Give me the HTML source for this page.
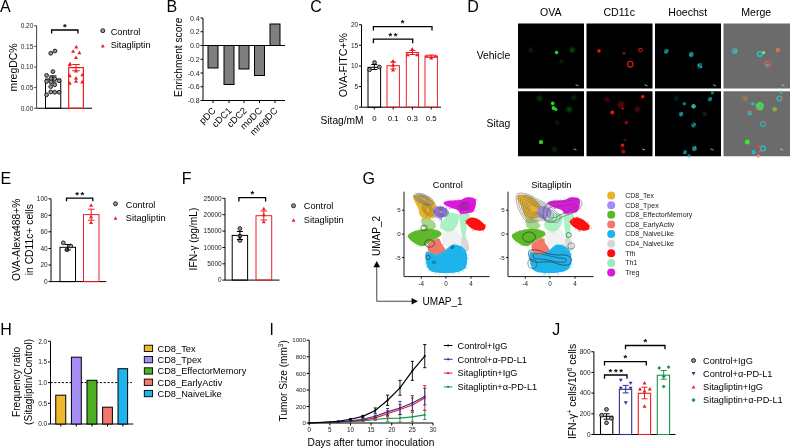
<!DOCTYPE html>
<html><head><meta charset="utf-8"><style>
html,body{margin:0;padding:0;background:#fff;overflow:hidden;width:790px;height:448px;}
svg{display:block;will-change:transform;font-family:"Liberation Sans", sans-serif;}
svg text{font-family:"Liberation Sans", sans-serif;}
</style></head><body>
<svg width="790" height="448" viewBox="0 0 790 448" font-family="Liberation Sans, sans-serif">
<rect width="790" height="448" fill="#fff"/>
<text x="0" y="11.9" font-size="16" text-anchor="start" fill="#000" >A</text>
<line x1="36.6" y1="25.75" x2="36.6" y2="108.25" stroke="#444" stroke-width="1" />
<line x1="34.1" y1="25.75" x2="36.6" y2="25.75" stroke="#444" stroke-width="1" />
<text x="33.300000000000004" y="28.09" font-size="6.5" text-anchor="end" fill="#222" >0.20</text>
<line x1="34.1" y1="46.4" x2="36.6" y2="46.4" stroke="#444" stroke-width="1" />
<text x="33.300000000000004" y="48.739999999999995" font-size="6.5" text-anchor="end" fill="#222" >0.15</text>
<line x1="34.1" y1="67.0" x2="36.6" y2="67.0" stroke="#444" stroke-width="1" />
<text x="33.300000000000004" y="69.34" font-size="6.5" text-anchor="end" fill="#222" >0.10</text>
<line x1="34.1" y1="87.6" x2="36.6" y2="87.6" stroke="#444" stroke-width="1" />
<text x="33.300000000000004" y="89.94" font-size="6.5" text-anchor="end" fill="#222" >0.05</text>
<line x1="34.1" y1="108.25" x2="36.6" y2="108.25" stroke="#444" stroke-width="1" />
<text x="33.300000000000004" y="110.59" font-size="6.5" text-anchor="end" fill="#222" >0.00</text>
<line x1="36.6" y1="108.25" x2="92" y2="108.25" stroke="#000" stroke-width="1" />
<text x="16.6" y="67.5" font-size="10.45" text-anchor="middle" fill="#000" transform="rotate(-90 16.6 67.5)" >mregDC%</text>
<rect x="45.5" y="79.1" width="15.25" height="29.150000000000006" fill="none" stroke="#000" stroke-width="1" />
<rect x="68.65" y="67.6" width="14.75" height="40.650000000000006" fill="none" stroke="#ee1d23" stroke-width="1.2" />
<line x1="53" y1="75.9" x2="53" y2="82.0" stroke="#000" stroke-width="1" />
<line x1="49.5" y1="75.9" x2="56.5" y2="75.9" stroke="#000" stroke-width="1" />
<line x1="49.5" y1="82.0" x2="56.5" y2="82.0" stroke="#000" stroke-width="1" />
<line x1="49" y1="79.1" x2="57" y2="79.1" stroke="#000" stroke-width="1" />
<line x1="76" y1="64.5" x2="76" y2="70.75" stroke="#ee1d23" stroke-width="1" />
<line x1="72.25" y1="64.5" x2="79.75" y2="64.5" stroke="#ee1d23" stroke-width="1" />
<line x1="72.25" y1="70.75" x2="79.75" y2="70.75" stroke="#ee1d23" stroke-width="1" />
<line x1="72" y1="67.6" x2="80" y2="67.6" stroke="#ee1d23" stroke-width="1" />
<circle cx="50.75" cy="53.25" r="1.9" fill="#999" stroke="#111" stroke-width="0.9"/>
<circle cx="55" cy="51" r="1.9" fill="#999" stroke="#111" stroke-width="0.9"/>
<circle cx="52.9" cy="71.6" r="1.9" fill="#999" stroke="#111" stroke-width="0.9"/>
<circle cx="46.6" cy="75.4" r="1.9" fill="#999" stroke="#111" stroke-width="0.9"/>
<circle cx="51" cy="78.5" r="1.9" fill="#999" stroke="#111" stroke-width="0.9"/>
<circle cx="54.75" cy="78.75" r="1.9" fill="#999" stroke="#111" stroke-width="0.9"/>
<circle cx="59.1" cy="80.75" r="1.9" fill="#999" stroke="#111" stroke-width="0.9"/>
<circle cx="46.6" cy="81.4" r="1.9" fill="#999" stroke="#111" stroke-width="0.9"/>
<circle cx="54.75" cy="84.75" r="1.9" fill="#999" stroke="#111" stroke-width="0.9"/>
<circle cx="50.75" cy="86.6" r="1.9" fill="#999" stroke="#111" stroke-width="0.9"/>
<circle cx="50.75" cy="92" r="1.9" fill="#999" stroke="#111" stroke-width="0.9"/>
<circle cx="54.75" cy="92.25" r="1.9" fill="#999" stroke="#111" stroke-width="0.9"/>
<circle cx="59.1" cy="92.25" r="1.9" fill="#999" stroke="#111" stroke-width="0.9"/>
<circle cx="46.6" cy="94.75" r="1.9" fill="#999" stroke="#111" stroke-width="0.9"/>
<circle cx="51" cy="82" r="1.9" fill="#999" stroke="#111" stroke-width="0.9"/>
<polygon points="74.25,48.4 78.25,48.4 76.25,44.800000000000004" fill="#ee1d23"/>
<polygon points="71.1,52.8 75.1,52.8 73.1,49.2" fill="#ee1d23"/>
<polygon points="77.4,54.3 81.4,54.3 79.4,50.7" fill="#ee1d23"/>
<polygon points="74.0,59.05 78.0,59.05 76,55.45" fill="#ee1d23"/>
<polygon points="68.0,65.3 72.0,65.3 70,61.7" fill="#ee1d23"/>
<polygon points="67.75,66.3 71.75,66.3 69.75,62.7" fill="#ee1d23"/>
<polygon points="74.0,72.55 78.0,72.55 76,68.95" fill="#ee1d23"/>
<polygon points="67.75,77.2 71.75,77.2 69.75,73.60000000000001" fill="#ee1d23"/>
<polygon points="80.25,76.3 84.25,76.3 82.25,72.7" fill="#ee1d23"/>
<polygon points="74.0,79.7 78.0,79.7 76,76.10000000000001" fill="#ee1d23"/>
<polygon points="74.0,82.8 78.0,82.8 76,79.2" fill="#ee1d23"/>
<polygon points="67.75,84.7 71.75,84.7 69.75,81.10000000000001" fill="#ee1d23"/>
<polygon points="80.25,83.39999999999999 84.25,83.39999999999999 82.25,79.8" fill="#ee1d23"/>
<path d="M51.6,33.5 V30 H77.9 V33.5" fill="none" stroke="#000" stroke-width="1.3"/>
<text x="64.75" y="29.7" font-size="9.5" text-anchor="middle" fill="#000" font-weight="bold" letter-spacing="0">*</text>
<circle cx="102.8" cy="30.7" r="2.0" fill="#999" stroke="#111" stroke-width="0.9"/>
<polygon points="100.89999999999999,47.410000000000004 104.7,47.410000000000004 102.8,43.99" fill="#ee1d23"/>
<text x="110.7" y="34.8" font-size="9.2" text-anchor="start" fill="#000" >Control</text>
<text x="110.7" y="48.2" font-size="9.2" text-anchor="start" fill="#000" >Sitagliptin</text>
<text x="166.5" y="11.9" font-size="16" text-anchor="start" fill="#000" >B</text>
<text x="182" y="57.25" font-size="10.2" text-anchor="middle" fill="#000" transform="rotate(-90 182 57.25)" >Enrichment score</text>
<line x1="203" y1="18" x2="203" y2="100.5" stroke="#000" stroke-width="1" />
<line x1="200.5" y1="18" x2="203" y2="18" stroke="#000" stroke-width="1" />
<text x="199.7" y="20.52" font-size="7" text-anchor="end" fill="#222" >0.4</text>
<line x1="200.5" y1="31.75" x2="203" y2="31.75" stroke="#000" stroke-width="1" />
<text x="199.7" y="34.27" font-size="7" text-anchor="end" fill="#222" >0.2</text>
<line x1="200.5" y1="45.5" x2="203" y2="45.5" stroke="#000" stroke-width="1" />
<text x="199.7" y="48.02" font-size="7" text-anchor="end" fill="#222" >0.0</text>
<line x1="200.5" y1="59.25" x2="203" y2="59.25" stroke="#000" stroke-width="1" />
<text x="199.7" y="61.77" font-size="7" text-anchor="end" fill="#222" >-0.2</text>
<line x1="200.5" y1="73" x2="203" y2="73" stroke="#000" stroke-width="1" />
<text x="199.7" y="75.52" font-size="7" text-anchor="end" fill="#222" >-0.4</text>
<line x1="200.5" y1="86.75" x2="203" y2="86.75" stroke="#000" stroke-width="1" />
<text x="199.7" y="89.27" font-size="7" text-anchor="end" fill="#222" >-0.6</text>
<line x1="200.5" y1="100.5" x2="203" y2="100.5" stroke="#000" stroke-width="1" />
<text x="199.7" y="103.02" font-size="7" text-anchor="end" fill="#222" >-0.8</text>
<line x1="203" y1="100.5" x2="285" y2="100.5" stroke="#000" stroke-width="1" />
<line x1="203" y1="45.5" x2="285" y2="45.5" stroke="#000" stroke-width="1" />
<rect x="208" y="45.5" width="10" height="22.5" fill="#7f7f7f" stroke="#000" stroke-width="1" />
<line x1="213.0" y1="100.5" x2="213.0" y2="103" stroke="#000" stroke-width="1" />
<text x="216.4" y="111.3" font-size="9.4" text-anchor="end" fill="#000" transform="rotate(-45 216.4 111.3)" >pDC</text>
<rect x="224" y="45.5" width="10" height="39.0" fill="#7f7f7f" stroke="#000" stroke-width="1" />
<line x1="229.0" y1="100.5" x2="229.0" y2="103" stroke="#000" stroke-width="1" />
<text x="232.4" y="111.3" font-size="9.4" text-anchor="end" fill="#000" transform="rotate(-45 232.4 111.3)" >cDC1</text>
<rect x="239" y="45.5" width="10" height="23.5" fill="#7f7f7f" stroke="#000" stroke-width="1" />
<line x1="244.0" y1="100.5" x2="244.0" y2="103" stroke="#000" stroke-width="1" />
<text x="247.4" y="111.3" font-size="9.4" text-anchor="end" fill="#000" transform="rotate(-45 247.4 111.3)" >cDC2</text>
<rect x="254.5" y="45.5" width="10.0" height="30.0" fill="#7f7f7f" stroke="#000" stroke-width="1" />
<line x1="259.5" y1="100.5" x2="259.5" y2="103" stroke="#000" stroke-width="1" />
<text x="262.9" y="111.3" font-size="9.4" text-anchor="end" fill="#000" transform="rotate(-45 262.9 111.3)" >moDC</text>
<rect x="270" y="24" width="10" height="21.5" fill="#7f7f7f" stroke="#000" stroke-width="1" />
<line x1="275.0" y1="100.5" x2="275.0" y2="103" stroke="#000" stroke-width="1" />
<text x="278.4" y="111.3" font-size="9.4" text-anchor="end" fill="#000" transform="rotate(-45 278.4 111.3)" >mregDC</text>
<text x="310.2" y="11.8" font-size="16" text-anchor="start" fill="#000" >C</text>
<text x="347" y="65.2" font-size="10.6" text-anchor="middle" fill="#000" transform="rotate(-90 347 65.2)" >OVA-FITC+%</text>
<line x1="361.5" y1="24.7" x2="361.5" y2="107.2" stroke="#000" stroke-width="1" />
<line x1="359.0" y1="24.7" x2="361.5" y2="24.7" stroke="#000" stroke-width="1" />
<text x="358.2" y="27.04" font-size="6.5" text-anchor="end" fill="#222" >20</text>
<line x1="359.0" y1="45.3" x2="361.5" y2="45.3" stroke="#000" stroke-width="1" />
<text x="358.2" y="47.64" font-size="6.5" text-anchor="end" fill="#222" >15</text>
<line x1="359.0" y1="66.0" x2="361.5" y2="66.0" stroke="#000" stroke-width="1" />
<text x="358.2" y="68.34" font-size="6.5" text-anchor="end" fill="#222" >10</text>
<line x1="359.0" y1="86.6" x2="361.5" y2="86.6" stroke="#000" stroke-width="1" />
<text x="358.2" y="88.94" font-size="6.5" text-anchor="end" fill="#222" >5</text>
<line x1="359.0" y1="107.2" x2="361.5" y2="107.2" stroke="#000" stroke-width="1" />
<text x="358.2" y="109.54" font-size="6.5" text-anchor="end" fill="#222" >0</text>
<line x1="361.5" y1="107.2" x2="441" y2="107.2" stroke="#000" stroke-width="1" />
<rect x="368" y="67.3" width="12.600000000000023" height="39.900000000000006" fill="none" stroke="#000" stroke-width="1" />
<line x1="374.3" y1="107.2" x2="374.3" y2="109.5" stroke="#000" stroke-width="1" />
<text x="374.3" y="121.2" font-size="7.8" text-anchor="middle" fill="#000" >0</text>
<rect x="387" y="65.7" width="12.399999999999977" height="41.5" fill="none" stroke="#ee1d23" stroke-width="1" />
<line x1="393.2" y1="107.2" x2="393.2" y2="109.5" stroke="#000" stroke-width="1" />
<text x="393.2" y="121.2" font-size="7.8" text-anchor="middle" fill="#000" >0.1</text>
<rect x="406.3" y="52.5" width="12.300000000000011" height="54.7" fill="none" stroke="#ee1d23" stroke-width="1" />
<line x1="412.45000000000005" y1="107.2" x2="412.45000000000005" y2="109.5" stroke="#000" stroke-width="1" />
<text x="412.45000000000005" y="121.2" font-size="7.8" text-anchor="middle" fill="#000" >0.3</text>
<rect x="425" y="56" width="12.399999999999977" height="51.2" fill="none" stroke="#ee1d23" stroke-width="1" />
<line x1="431.2" y1="107.2" x2="431.2" y2="109.5" stroke="#000" stroke-width="1" />
<text x="431.2" y="121.2" font-size="7.8" text-anchor="middle" fill="#000" >0.5</text>
<circle cx="369.6" cy="69.7" r="1.9" fill="#999" stroke="#111" stroke-width="0.9"/>
<circle cx="374.5" cy="62.5" r="1.9" fill="#999" stroke="#111" stroke-width="0.9"/>
<circle cx="379.3" cy="67" r="1.9" fill="#999" stroke="#111" stroke-width="0.9"/>
<line x1="374.3" y1="64.5" x2="374.3" y2="69.5" stroke="#000" stroke-width="1" />
<line x1="371.3" y1="64.5" x2="377.3" y2="64.5" stroke="#000" stroke-width="1" />
<line x1="371.3" y1="69.5" x2="377.3" y2="69.5" stroke="#000" stroke-width="1" />
<polygon points="391.0,62.699999999999996 395.0,62.699999999999996 393,59.1" fill="#ee1d23"/>
<polygon points="391.0,66.8 395.0,66.8 393,63.2" fill="#ee1d23"/>
<polygon points="391.0,71.5 395.0,71.5 393,67.9" fill="#ee1d23"/>
<line x1="393.2" y1="62" x2="393.2" y2="69" stroke="#ee1d23" stroke-width="1" />
<line x1="390.2" y1="62" x2="396.2" y2="62" stroke="#ee1d23" stroke-width="1" />
<line x1="390.2" y1="69" x2="396.2" y2="69" stroke="#ee1d23" stroke-width="1" />
<polygon points="410.2,50.599999999999994 414.2,50.599999999999994 412.2,47.0" fill="#ee1d23"/>
<polygon points="405.9,56.3 409.9,56.3 407.9,52.7" fill="#ee1d23"/>
<polygon points="415.0,56.3 419.0,56.3 417,52.7" fill="#ee1d23"/>
<line x1="412.5" y1="50.5" x2="412.5" y2="54.5" stroke="#ee1d23" stroke-width="1" />
<line x1="409.5" y1="50.5" x2="415.5" y2="50.5" stroke="#ee1d23" stroke-width="1" />
<line x1="409.5" y1="54.5" x2="415.5" y2="54.5" stroke="#ee1d23" stroke-width="1" />
<polygon points="424.7,57.8 428.7,57.8 426.7,54.2" fill="#ee1d23"/>
<polygon points="429.2,59.5 433.2,59.5 431.2,55.900000000000006" fill="#ee1d23"/>
<polygon points="433.5,57.8 437.5,57.8 435.5,54.2" fill="#ee1d23"/>
<line x1="431.2" y1="55" x2="431.2" y2="57.5" stroke="#ee1d23" stroke-width="1" />
<line x1="428.2" y1="55" x2="434.2" y2="55" stroke="#ee1d23" stroke-width="1" />
<line x1="428.2" y1="57.5" x2="434.2" y2="57.5" stroke="#ee1d23" stroke-width="1" />
<path d="M373.4,43.2 V39.1 H412.7 V43.2" fill="none" stroke="#000" stroke-width="1.3"/>
<text x="393.84999999999997" y="38.800000000000004" font-size="9.5" text-anchor="middle" fill="#000" font-weight="bold" letter-spacing="1.6">**</text>
<path d="M373.4,30.5 V26.7 H432 V30.5" fill="none" stroke="#000" stroke-width="1.3"/>
<text x="402.7" y="26.4" font-size="9.5" text-anchor="middle" fill="#000" font-weight="bold" letter-spacing="0">*</text>
<text x="320.5" y="123.6" font-size="10.2" text-anchor="start" fill="#000" >Sitag/mM</text>
<text x="467.3" y="11.7" font-size="16" text-anchor="start" fill="#000" >D</text>
<text x="550.7" y="16.1" font-size="10.6" text-anchor="middle" fill="#000" >OVA</text>
<text x="619.2" y="16.1" font-size="10.6" text-anchor="middle" fill="#000" >CD11c</text>
<text x="687.7" y="16.1" font-size="10.6" text-anchor="middle" fill="#000" >Hoechst</text>
<text x="756.2" y="16.1" font-size="10.6" text-anchor="middle" fill="#000" >Merge</text>
<text x="510.2" y="59" font-size="10.4" text-anchor="end" fill="#000" >Vehicle</text>
<text x="510.2" y="127" font-size="10.4" text-anchor="end" fill="#000" >Sitag</text>
<rect x="518" y="23.5" width="66" height="65" fill="#000" stroke="none" stroke-width="0" />
<rect x="586.5" y="23.5" width="66" height="65" fill="#000" stroke="none" stroke-width="0" />
<rect x="655" y="23.5" width="66" height="65" fill="#000" stroke="none" stroke-width="0" />
<rect x="723.5" y="23.5" width="66.5" height="65" fill="#6b6b6b" stroke="none" stroke-width="0" />
<rect x="518" y="91.25" width="66" height="65" fill="#000" stroke="none" stroke-width="0" />
<rect x="586.5" y="91.25" width="66" height="65" fill="#000" stroke="none" stroke-width="0" />
<rect x="655" y="91.25" width="66" height="65" fill="#000" stroke="none" stroke-width="0" />
<rect x="723.5" y="91.25" width="66.5" height="65" fill="#6b6b6b" stroke="none" stroke-width="0" />
<defs><filter id="bl" x="-50%" y="-50%" width="200%" height="200%"><feGaussianBlur stdDeviation="0.55"/></filter><filter id="bl2" x="-50%" y="-50%" width="200%" height="200%"><feGaussianBlur stdDeviation="1.2"/></filter></defs>
<circle cx="556.6" cy="52.5" r="1.8" fill="#22dd22" fill-opacity="1" filter="url(#bl)"/>
<circle cx="572.25" cy="50.1" r="2.5" fill="#22dd22" fill-opacity="0.35" filter="url(#bl2)"/>
<circle cx="530.8" cy="50.1" r="2.3" fill="#22dd22" fill-opacity="0.18" filter="url(#bl2)"/>
<circle cx="561.3" cy="61.8" r="2.3" fill="#22dd22" fill-opacity="0.15" filter="url(#bl2)"/>
<line x1="575.5" y1="84.7" x2="578.5" y2="85.89999999999999" stroke="#ccc" stroke-width="0.8"/>
<circle cx="599" cy="50.9" r="1.8" fill="#ff1a1a" fill-opacity="0.9" filter="url(#bl)"/>
<circle cx="640.5" cy="50.1" r="1.8" fill="none" stroke="#ff1a1a" stroke-opacity="0.7" stroke-width="1.2" filter="url(#bl)"/>
<circle cx="624" cy="53.25" r="1.6" fill="#ff1a1a" fill-opacity="0.5" filter="url(#bl)"/>
<circle cx="630.3" cy="64.2" r="2.8" fill="none" stroke="#ff1a1a" stroke-opacity="0.8" stroke-width="1.3" filter="url(#bl)"/>
<line x1="644.5" y1="84.7" x2="647.5" y2="85.89999999999999" stroke="#ccc" stroke-width="0.8"/>
<ellipse cx="666.25" cy="51.3" rx="2.4" ry="2.64" fill="#1fc8c8" fill-opacity="0.45" filter="url(#bl)"/>
<circle cx="667.21" cy="50.58" r="0.84" fill="#1fc8c8" fill-opacity="0.9" filter="url(#bl)"/>
<circle cx="665.53" cy="52.26" r="0.84" fill="#1fc8c8" fill-opacity="0.9" filter="url(#bl)"/>
<ellipse cx="691.25" cy="54.5" rx="2.4" ry="2.64" fill="#1fc8c8" fill-opacity="0.55" filter="url(#bl)"/>
<circle cx="692.21" cy="53.78" r="0.84" fill="#1fc8c8" fill-opacity="0.9" filter="url(#bl)"/>
<circle cx="690.53" cy="55.46" r="0.84" fill="#1fc8c8" fill-opacity="0.9" filter="url(#bl)"/>
<ellipse cx="699.8" cy="65.8" rx="2.7" ry="2.9700000000000006" fill="#1fc8c8" fill-opacity="0.45" filter="url(#bl)"/>
<circle cx="701.15" cy="66.88" r="0.94" fill="#1fc8c8" fill-opacity="0.9" filter="url(#bl)"/>
<circle cx="698.72" cy="65.26" r="0.94" fill="#1fc8c8" fill-opacity="0.9" filter="url(#bl)"/>
<line x1="713.0" y1="84.7" x2="716.0" y2="85.89999999999999" stroke="#ccc" stroke-width="0.8"/>
<circle cx="734.8" cy="50.9" r="2.2" fill="none" stroke="#1fc8c8" stroke-opacity="0.8" stroke-width="1.6" filter="url(#bl)"/>
<circle cx="735.5" cy="51" r="1.2" fill="#ff8080" fill-opacity="0.8" filter="url(#bl)"/>
<circle cx="759.8" cy="54" r="2.4" fill="none" stroke="#1fc8c8" stroke-opacity="0.8" stroke-width="1.8" filter="url(#bl)"/>
<circle cx="763.75" cy="52.5" r="1.5" fill="#88ff44" fill-opacity="0.9" filter="url(#bl)"/>
<circle cx="777.8" cy="50.1" r="2.2" fill="#e08040" fill-opacity="0.8" filter="url(#bl)"/>
<circle cx="767.7" cy="64.2" r="2.9" fill="none" stroke="#ff5050" stroke-opacity="0.8" stroke-width="1.3" filter="url(#bl)"/>
<circle cx="767.5" cy="65" r="1.6" fill="#1fc8c8" fill-opacity="0.8" filter="url(#bl)"/>
<line x1="781.5" y1="84.7" x2="784.5" y2="85.89999999999999" stroke="#ccc" stroke-width="0.8"/>
<circle cx="552.7" cy="103.4" r="1.8" fill="#22dd22" fill-opacity="1" filter="url(#bl)"/>
<circle cx="553.5" cy="108" r="1.9" fill="#22dd22" fill-opacity="1" filter="url(#bl)"/>
<circle cx="555.8" cy="109.3" r="1.6" fill="#22dd22" fill-opacity="1" filter="url(#bl)"/>
<circle cx="539.4" cy="98.4" r="2.8" fill="#22dd22" fill-opacity="0.22" filter="url(#bl2)"/>
<circle cx="569.1" cy="109.3" r="2.8" fill="#22dd22" fill-opacity="0.3" filter="url(#bl2)"/>
<circle cx="573.8" cy="97.6" r="2.5" fill="#22dd22" fill-opacity="0.18" filter="url(#bl2)"/>
<circle cx="541" cy="142.1" r="2.2" fill="#22dd22" fill-opacity="0.95" filter="url(#bl)"/>
<circle cx="557.4" cy="122.6" r="2.3" fill="#22dd22" fill-opacity="0.15" filter="url(#bl2)"/>
<circle cx="554.3" cy="149.2" r="3" fill="#22dd22" fill-opacity="0.15" filter="url(#bl2)"/>
<line x1="573.5" y1="148.9" x2="576.5" y2="150.1" stroke="#ccc" stroke-width="0.8"/>
<circle cx="642.8" cy="96.8" r="1.8" fill="#ff1a1a" fill-opacity="0.9" filter="url(#bl)"/>
<circle cx="612.3" cy="112.4" r="2.0" fill="#ff1a1a" fill-opacity="0.9" filter="url(#bl)"/>
<circle cx="606.9" cy="99.2" r="2.5" fill="#ff1a1a" fill-opacity="0.25" filter="url(#bl2)"/>
<circle cx="620.9" cy="104.6" r="3.5" fill="#ff1a1a" fill-opacity="0.3" filter="url(#bl2)"/>
<circle cx="622.5" cy="108.5" r="1.2" fill="#ff1a1a" fill-opacity="0.7" filter="url(#bl)"/>
<circle cx="637.3" cy="109.3" r="3" fill="#ff1a1a" fill-opacity="0.25" filter="url(#bl2)"/>
<circle cx="626.4" cy="122.6" r="2.0" fill="#ff1a1a" fill-opacity="0.45" filter="url(#bl)"/>
<circle cx="622.5" cy="145.25" r="1.8" fill="#ff1a1a" fill-opacity="0.9" filter="url(#bl)"/>
<circle cx="623.3" cy="151.5" r="2" fill="#ff1a1a" fill-opacity="0.6" filter="url(#bl)"/>
<circle cx="625" cy="140" r="1.5" fill="#ff1a1a" fill-opacity="0.3" filter="url(#bl)"/>
<line x1="642.0" y1="148.9" x2="645.0" y2="150.1" stroke="#ccc" stroke-width="0.8"/>
<circle cx="712.4" cy="92.9" r="1.6" fill="#1fc8c8" fill-opacity="0.6" filter="url(#bl)"/>
<ellipse cx="710" cy="99.2" rx="2.2" ry="2.4200000000000004" fill="#1fc8c8" fill-opacity="0.45" filter="url(#bl)"/>
<circle cx="710.88" cy="98.54" r="0.77" fill="#1fc8c8" fill-opacity="0.9" filter="url(#bl)"/>
<circle cx="709.34" cy="100.08" r="0.77" fill="#1fc8c8" fill-opacity="0.9" filter="url(#bl)"/>
<circle cx="684.25" cy="103.8" r="1.8" fill="#1fc8c8" fill-opacity="0.6" filter="url(#bl)"/>
<circle cx="693.6" cy="106.2" r="2.2" fill="#1fc8c8" fill-opacity="0.9" filter="url(#bl)"/>
<ellipse cx="681.1" cy="114" rx="2.3" ry="2.53" fill="#1fc8c8" fill-opacity="0.5" filter="url(#bl)"/>
<circle cx="682.02" cy="113.31" r="0.80" fill="#1fc8c8" fill-opacity="0.9" filter="url(#bl)"/>
<circle cx="680.41" cy="114.92" r="0.80" fill="#1fc8c8" fill-opacity="0.9" filter="url(#bl)"/>
<ellipse cx="693.6" cy="124.9" rx="2.5" ry="2.75" fill="#1fc8c8" fill-opacity="0.35" filter="url(#bl)"/>
<circle cx="694.60" cy="124.15" r="0.88" fill="#1fc8c8" fill-opacity="0.9" filter="url(#bl)"/>
<circle cx="692.85" cy="125.90" r="0.88" fill="#1fc8c8" fill-opacity="0.9" filter="url(#bl)"/>
<circle cx="704.6" cy="114" r="2.3" fill="#1fc8c8" fill-opacity="0.2" filter="url(#bl2)"/>
<circle cx="676.4" cy="98.4" r="2.3" fill="#1fc8c8" fill-opacity="0.2" filter="url(#bl2)"/>
<ellipse cx="694.4" cy="148.4" rx="2.4" ry="2.64" fill="#1fc8c8" fill-opacity="0.55" filter="url(#bl)"/>
<circle cx="695.36" cy="147.68" r="0.84" fill="#1fc8c8" fill-opacity="0.9" filter="url(#bl)"/>
<circle cx="693.68" cy="149.36" r="0.84" fill="#1fc8c8" fill-opacity="0.9" filter="url(#bl)"/>
<ellipse cx="685" cy="152.3" rx="2.0" ry="2.2" fill="#1fc8c8" fill-opacity="0.5" filter="url(#bl)"/>
<circle cx="685.80" cy="151.70" r="0.70" fill="#1fc8c8" fill-opacity="0.9" filter="url(#bl)"/>
<circle cx="684.40" cy="153.10" r="0.70" fill="#1fc8c8" fill-opacity="0.9" filter="url(#bl)"/>
<circle cx="689" cy="156" r="1.8" fill="#1fc8c8" fill-opacity="0.6" filter="url(#bl)"/>
<line x1="710.5" y1="148.9" x2="713.5" y2="150.1" stroke="#ccc" stroke-width="0.8"/>
<circle cx="745" cy="98.4" r="2.6" fill="#c08050" fill-opacity="0.6" filter="url(#bl2)"/>
<circle cx="759.8" cy="106.2" r="4.2" fill="#55dd44" fill-opacity="0.85" filter="url(#bl)"/>
<circle cx="761" cy="106.5" r="1.8" fill="#1fc8c8" fill-opacity="0.8" filter="url(#bl)"/>
<circle cx="757" cy="108.5" r="1.3" fill="#ff5050" fill-opacity="0.7" filter="url(#bl)"/>
<circle cx="752.8" cy="103.8" r="1.8" fill="#1fc8c8" fill-opacity="0.8" filter="url(#bl)"/>
<circle cx="749.7" cy="113.2" r="2.2" fill="#1fc8c8" fill-opacity="0.8" filter="url(#bl)"/>
<circle cx="749" cy="111.5" r="1.5" fill="#ff5050" fill-opacity="0.8" filter="url(#bl)"/>
<circle cx="779.4" cy="98.4" r="2.3" fill="none" stroke="#1fc8c8" stroke-opacity="0.8" stroke-width="1.4" filter="url(#bl)"/>
<circle cx="781.5" cy="97" r="1.4" fill="#ff5050" fill-opacity="0.8" filter="url(#bl)"/>
<circle cx="781" cy="92.1" r="1.6" fill="#1fc8c8" fill-opacity="0.8" filter="url(#bl)"/>
<circle cx="774.7" cy="109.3" r="2.4" fill="#a0c040" fill-opacity="0.7" filter="url(#bl)"/>
<circle cx="763" cy="124.2" r="2.4" fill="none" stroke="#1fc8c8" stroke-opacity="0.7" stroke-width="1.3" filter="url(#bl)"/>
<circle cx="764.5" cy="122.5" r="1.2" fill="#ff5050" fill-opacity="0.7" filter="url(#bl)"/>
<circle cx="747.3" cy="142.1" r="2.5" fill="#33ee33" fill-opacity="0.95" filter="url(#bl)"/>
<circle cx="763" cy="148.4" r="2.3" fill="none" stroke="#1fc8c8" stroke-opacity="0.85" stroke-width="1.5" filter="url(#bl)"/>
<circle cx="759" cy="146.8" r="1.8" fill="#ff4040" fill-opacity="0.7" filter="url(#bl)"/>
<circle cx="753.6" cy="152.3" r="2.0" fill="#1fc8c8" fill-opacity="0.8" filter="url(#bl)"/>
<circle cx="758.3" cy="156.2" r="1.8" fill="#ff9090" fill-opacity="0.8" filter="url(#bl)"/>
<circle cx="760" cy="151.5" r="1.4" fill="#ff5050" fill-opacity="0.6" filter="url(#bl)"/>
<line x1="780.0" y1="148.9" x2="783.0" y2="150.1" stroke="#ccc" stroke-width="0.8"/>
<text x="0.5" y="183.8" font-size="16" text-anchor="start" fill="#000" >E</text>
<line x1="51" y1="198.8" x2="51" y2="281.6" stroke="#000" stroke-width="1" />
<line x1="48.5" y1="198.8" x2="51" y2="198.8" stroke="#000" stroke-width="1" />
<text x="47.7" y="201.14000000000001" font-size="6.5" text-anchor="end" fill="#222" >100</text>
<line x1="48.5" y1="215.3" x2="51" y2="215.3" stroke="#000" stroke-width="1" />
<text x="47.7" y="217.64000000000001" font-size="6.5" text-anchor="end" fill="#222" >80</text>
<line x1="48.5" y1="231.8" x2="51" y2="231.8" stroke="#000" stroke-width="1" />
<text x="47.7" y="234.14000000000001" font-size="6.5" text-anchor="end" fill="#222" >60</text>
<line x1="48.5" y1="248.5" x2="51" y2="248.5" stroke="#000" stroke-width="1" />
<text x="47.7" y="250.84" font-size="6.5" text-anchor="end" fill="#222" >40</text>
<line x1="48.5" y1="265.0" x2="51" y2="265.0" stroke="#000" stroke-width="1" />
<text x="47.7" y="267.34" font-size="6.5" text-anchor="end" fill="#222" >20</text>
<line x1="48.5" y1="281.6" x2="51" y2="281.6" stroke="#000" stroke-width="1" />
<text x="47.7" y="283.94" font-size="6.5" text-anchor="end" fill="#222" >0</text>
<line x1="51" y1="281.6" x2="106.3" y2="281.6" stroke="#000" stroke-width="1" />
<text x="19.7" y="239.8" font-size="10.3" text-anchor="middle" fill="#000" transform="rotate(-90 19.7 239.8)" >OVA-Alexa488+%</text>
<text x="33.2" y="239.7" font-size="10.3" text-anchor="middle" fill="#000" transform="rotate(-90 33.2 239.7)" >in CD11c+ cells</text>
<rect x="60" y="247.3" width="15.5" height="34.30000000000001" fill="none" stroke="#000" stroke-width="1" />
<rect x="83.5" y="214.6" width="15.5" height="67.00000000000003" fill="none" stroke="#ee1d23" stroke-width="1" />
<circle cx="63.3" cy="242.8" r="1.9" fill="#999" stroke="#111" stroke-width="0.9"/>
<circle cx="70.7" cy="246" r="1.9" fill="#999" stroke="#111" stroke-width="0.9"/>
<circle cx="67" cy="249.7" r="1.9" fill="#999" stroke="#111" stroke-width="0.9"/>
<line x1="67.7" y1="244.5" x2="67.7" y2="250" stroke="#000" stroke-width="1" />
<line x1="64.7" y1="244.5" x2="70.7" y2="244.5" stroke="#000" stroke-width="1" />
<line x1="64.7" y1="250" x2="70.7" y2="250" stroke="#000" stroke-width="1" />
<polygon points="89.1,206.8 93.1,206.8 91.1,203.2" fill="#ee1d23"/>
<polygon points="89.1,218.3 93.1,218.3 91.1,214.7" fill="#ee1d23"/>
<polygon points="89.1,224.0 93.1,224.0 91.1,220.39999999999998" fill="#ee1d23"/>
<line x1="91.2" y1="209.2" x2="91.2" y2="220.2" stroke="#ee1d23" stroke-width="1" />
<line x1="87.9" y1="209.2" x2="94.5" y2="209.2" stroke="#ee1d23" stroke-width="1" />
<line x1="87.9" y1="220.2" x2="94.5" y2="220.2" stroke="#ee1d23" stroke-width="1" />
<path d="M66.5,201.29999999999998 V198.1 H92.8 V201.29999999999998" fill="none" stroke="#000" stroke-width="1.3"/>
<text x="80.45" y="197.79999999999998" font-size="9.5" text-anchor="middle" fill="#000" font-weight="bold" letter-spacing="1.6">**</text>
<circle cx="115.5" cy="203.75" r="2.0" fill="#999" stroke="#111" stroke-width="0.9"/>
<polygon points="113.6,219.71 117.4,219.71 115.5,216.29" fill="#ee1d23"/>
<text x="125.75" y="207.5" font-size="9.2" text-anchor="start" fill="#000" >Control</text>
<text x="125.75" y="221.25" font-size="9.2" text-anchor="start" fill="#000" >Sitagliptin</text>
<text x="181.8" y="183.8" font-size="16" text-anchor="start" fill="#000" >F</text>
<text x="197" y="239" font-size="10.2" text-anchor="middle" fill="#000" transform="rotate(-90 197 239)" >IFN-γ (pg/mL)</text>
<line x1="225" y1="198.3" x2="225" y2="280.1" stroke="#000" stroke-width="1" />
<line x1="222.5" y1="198.3" x2="225" y2="198.3" stroke="#000" stroke-width="1" />
<text x="221.7" y="200.64000000000001" font-size="6.5" text-anchor="end" fill="#222" >25000</text>
<line x1="222.5" y1="214.7" x2="225" y2="214.7" stroke="#000" stroke-width="1" />
<text x="221.7" y="217.04" font-size="6.5" text-anchor="end" fill="#222" >20000</text>
<line x1="222.5" y1="231.1" x2="225" y2="231.1" stroke="#000" stroke-width="1" />
<text x="221.7" y="233.44" font-size="6.5" text-anchor="end" fill="#222" >15000</text>
<line x1="222.5" y1="247.5" x2="225" y2="247.5" stroke="#000" stroke-width="1" />
<text x="221.7" y="249.84" font-size="6.5" text-anchor="end" fill="#222" >10000</text>
<line x1="222.5" y1="263.8" x2="225" y2="263.8" stroke="#000" stroke-width="1" />
<text x="221.7" y="266.14" font-size="6.5" text-anchor="end" fill="#222" >5000</text>
<line x1="222.5" y1="280.1" x2="225" y2="280.1" stroke="#000" stroke-width="1" />
<text x="221.7" y="282.44" font-size="6.5" text-anchor="end" fill="#222" >0</text>
<line x1="225" y1="280.1" x2="279.5" y2="280.1" stroke="#000" stroke-width="1" />
<rect x="232.2" y="235.4" width="15.4" height="44.70000000000002" fill="none" stroke="#000" stroke-width="1" />
<rect x="256" y="215.7" width="15.7" height="64.40000000000003" fill="none" stroke="#ee1d23" stroke-width="1" />
<circle cx="239.9" cy="228.5" r="1.9" fill="#999" stroke="#111" stroke-width="0.9"/>
<circle cx="239.9" cy="236" r="1.9" fill="#999" stroke="#111" stroke-width="0.9"/>
<circle cx="239.9" cy="240.5" r="1.9" fill="#999" stroke="#111" stroke-width="0.9"/>
<line x1="239.9" y1="231.5" x2="239.9" y2="239.5" stroke="#000" stroke-width="1" />
<line x1="236.9" y1="231.5" x2="242.9" y2="231.5" stroke="#000" stroke-width="1" />
<line x1="236.9" y1="239.5" x2="242.9" y2="239.5" stroke="#000" stroke-width="1" />
<polygon points="261.8,210.3 265.8,210.3 263.8,206.7" fill="#ee1d23"/>
<polygon points="261.8,216.3 265.8,216.3 263.8,212.7" fill="#ee1d23"/>
<polygon points="261.8,223.3 265.8,223.3 263.8,219.7" fill="#ee1d23"/>
<line x1="263.8" y1="211" x2="263.8" y2="220" stroke="#ee1d23" stroke-width="1" />
<line x1="260.5" y1="211" x2="267.1" y2="211" stroke="#ee1d23" stroke-width="1" />
<line x1="260.5" y1="220" x2="267.1" y2="220" stroke="#ee1d23" stroke-width="1" />
<path d="M238.9,201.5 V197.7 H265.6 V201.5" fill="none" stroke="#000" stroke-width="1.3"/>
<text x="252.25" y="197.39999999999998" font-size="9.5" text-anchor="middle" fill="#000" font-weight="bold" letter-spacing="0">*</text>
<circle cx="293.5" cy="205.75" r="2.0" fill="#999" stroke="#111" stroke-width="0.9"/>
<polygon points="291.6,221.71 295.4,221.71 293.5,218.29" fill="#ee1d23"/>
<text x="303.75" y="209.25" font-size="9.2" text-anchor="start" fill="#000" >Control</text>
<text x="303.75" y="222.5" font-size="9.2" text-anchor="start" fill="#000" >Sitagliptin</text>
<text x="0.3" y="335.2" font-size="16" text-anchor="start" fill="#000" >H</text>
<text x="19.9" y="381.9" font-size="10.1" text-anchor="middle" fill="#000" transform="rotate(-90 19.9 381.9)" >Frequency ratio</text>
<text x="31.8" y="381.9" font-size="10.15" text-anchor="middle" fill="#000" transform="rotate(-90 31.8 381.9)" >(Sitagliptin/Control)</text>
<line x1="50.5" y1="341.25" x2="50.5" y2="424.0" stroke="#000" stroke-width="1" />
<line x1="48.0" y1="341.25" x2="50.5" y2="341.25" stroke="#000" stroke-width="1" />
<text x="47.2" y="343.59" font-size="6.5" text-anchor="end" fill="#222" >2.0</text>
<line x1="48.0" y1="362.0" x2="50.5" y2="362.0" stroke="#000" stroke-width="1" />
<text x="47.2" y="364.34" font-size="6.5" text-anchor="end" fill="#222" >1.5</text>
<line x1="48.0" y1="382.6" x2="50.5" y2="382.6" stroke="#000" stroke-width="1" />
<text x="47.2" y="384.94" font-size="6.5" text-anchor="end" fill="#222" >1.0</text>
<line x1="48.0" y1="403.3" x2="50.5" y2="403.3" stroke="#000" stroke-width="1" />
<text x="47.2" y="405.64" font-size="6.5" text-anchor="end" fill="#222" >0.5</text>
<line x1="48.0" y1="424.0" x2="50.5" y2="424.0" stroke="#000" stroke-width="1" />
<text x="47.2" y="426.34" font-size="6.5" text-anchor="end" fill="#222" >0.0</text>
<line x1="50.5" y1="424" x2="133.25" y2="424" stroke="#000" stroke-width="1" />
<line x1="50.5" y1="382.6" x2="132" y2="382.6" stroke="#000" stroke-width="1" stroke-dasharray="2.2,1.6"/>
<rect x="55.75" y="395.2" width="10.0" height="28.80000000000001" fill="#f0b92d" stroke="#000" stroke-width="1" />
<line x1="60.75" y1="424" x2="60.75" y2="426.5" stroke="#000" stroke-width="1" />
<rect x="71.4" y="357.2" width="9.899999999999991" height="66.80000000000001" fill="#a68cf5" stroke="#000" stroke-width="1" />
<line x1="76.35" y1="424" x2="76.35" y2="426.5" stroke="#000" stroke-width="1" />
<rect x="87" y="380.3" width="9.900000000000006" height="43.69999999999999" fill="#4caf21" stroke="#000" stroke-width="1" />
<line x1="91.95" y1="424" x2="91.95" y2="426.5" stroke="#000" stroke-width="1" />
<rect x="102.6" y="407.2" width="9.800000000000011" height="16.80000000000001" fill="#f5766b" stroke="#000" stroke-width="1" />
<line x1="107.5" y1="424" x2="107.5" y2="426.5" stroke="#000" stroke-width="1" />
<rect x="118" y="368.7" width="9.599999999999994" height="55.30000000000001" fill="#1fb4ee" stroke="#000" stroke-width="1" />
<line x1="122.8" y1="424" x2="122.8" y2="426.5" stroke="#000" stroke-width="1" />
<rect x="144.3" y="345.2" width="8.3" height="6.3" fill="#f0b92d" stroke="#000" stroke-width="0.9" />
<text x="157.5" y="351.7" font-size="9.25" text-anchor="start" fill="#000" >CD8_Tex</text>
<rect x="144.3" y="356.5" width="8.3" height="6.3" fill="#a68cf5" stroke="#000" stroke-width="0.9" />
<text x="157.5" y="363.0" font-size="9.25" text-anchor="start" fill="#000" >CD8_Tpex</text>
<rect x="144.3" y="367.8" width="8.3" height="6.3" fill="#4caf21" stroke="#000" stroke-width="0.9" />
<text x="157.5" y="374.3" font-size="9.25" text-anchor="start" fill="#000" >CD8_EffectorMemory</text>
<rect x="144.3" y="379.09999999999997" width="8.3" height="6.3" fill="#f5766b" stroke="#000" stroke-width="0.9" />
<text x="157.5" y="385.59999999999997" font-size="9.25" text-anchor="start" fill="#000" >CD8_EarlyActiv</text>
<rect x="144.3" y="390.4" width="8.3" height="6.3" fill="#1fb4ee" stroke="#000" stroke-width="0.9" />
<text x="157.5" y="396.9" font-size="9.25" text-anchor="start" fill="#000" >CD8_NaiveLike</text>
<text x="269.4" y="335" font-size="15.6" text-anchor="start" fill="#000" >I</text>
<text x="287.2" y="380.75" font-size="10.1" text-anchor="middle" fill="#000" transform="rotate(-90 287.2 380.75)" >Tumor Size (mm<tspan dy="-3.8" font-size="6.6">3</tspan><tspan dy="3.8">)</tspan></text>
<line x1="309.2" y1="340.2" x2="309.2" y2="423.0" stroke="#000" stroke-width="1" />
<line x1="306.7" y1="340.2" x2="309.2" y2="340.2" stroke="#000" stroke-width="1" />
<text x="305.9" y="342.396" font-size="6.1" text-anchor="end" fill="#222" >1000</text>
<line x1="306.7" y1="356.8" x2="309.2" y2="356.8" stroke="#000" stroke-width="1" />
<text x="305.9" y="358.99600000000004" font-size="6.1" text-anchor="end" fill="#222" >800</text>
<line x1="306.7" y1="373.4" x2="309.2" y2="373.4" stroke="#000" stroke-width="1" />
<text x="305.9" y="375.596" font-size="6.1" text-anchor="end" fill="#222" >600</text>
<line x1="306.7" y1="390.0" x2="309.2" y2="390.0" stroke="#000" stroke-width="1" />
<text x="305.9" y="392.196" font-size="6.1" text-anchor="end" fill="#222" >400</text>
<line x1="306.7" y1="406.5" x2="309.2" y2="406.5" stroke="#000" stroke-width="1" />
<text x="305.9" y="408.696" font-size="6.1" text-anchor="end" fill="#222" >200</text>
<line x1="306.7" y1="423.0" x2="309.2" y2="423.0" stroke="#000" stroke-width="1" />
<text x="305.9" y="425.196" font-size="6.1" text-anchor="end" fill="#222" >0</text>
<line x1="309.2" y1="423" x2="433.0" y2="423" stroke="#000" stroke-width="1" />
<line x1="309.2" y1="423" x2="309.2" y2="425.5" stroke="#000" stroke-width="1" />
<text x="309.2" y="432.4" font-size="6.3" text-anchor="middle" fill="#222" >0</text>
<line x1="329.8333333333333" y1="423" x2="329.8333333333333" y2="425.5" stroke="#000" stroke-width="1" />
<text x="329.8333333333333" y="432.4" font-size="6.3" text-anchor="middle" fill="#222" >5</text>
<line x1="350.46666666666664" y1="423" x2="350.46666666666664" y2="425.5" stroke="#000" stroke-width="1" />
<text x="350.46666666666664" y="432.4" font-size="6.3" text-anchor="middle" fill="#222" >10</text>
<line x1="371.1" y1="423" x2="371.1" y2="425.5" stroke="#000" stroke-width="1" />
<text x="371.1" y="432.4" font-size="6.3" text-anchor="middle" fill="#222" >15</text>
<line x1="391.73333333333335" y1="423" x2="391.73333333333335" y2="425.5" stroke="#000" stroke-width="1" />
<text x="391.73333333333335" y="432.4" font-size="6.3" text-anchor="middle" fill="#222" >20</text>
<line x1="412.3666666666667" y1="423" x2="412.3666666666667" y2="425.5" stroke="#000" stroke-width="1" />
<text x="412.3666666666667" y="432.4" font-size="6.3" text-anchor="middle" fill="#222" >25</text>
<line x1="433.0" y1="423" x2="433.0" y2="425.5" stroke="#000" stroke-width="1" />
<text x="433.0" y="432.4" font-size="6.3" text-anchor="middle" fill="#222" >30</text>
<text x="371" y="445.5" font-size="10.2" text-anchor="middle" fill="#000" >Days after tumor inoculation</text>
<polyline points="309.20,423.00 338.09,422.34 350.47,421.76 362.85,420.93 375.23,419.52 387.61,418.45 399.99,418.20 412.37,416.79 424.75,414.89" fill="none" stroke="#1b9350" stroke-width="1.2"/>
<circle cx="309.2" cy="423.0" r="1.1" fill="#1b9350" stroke="none" stroke-width="0"/>
<line x1="338.08666666666664" y1="422.172" x2="338.08666666666664" y2="422.5032" stroke="#1b9350" stroke-width="0.9" />
<line x1="336.4866666666666" y1="422.172" x2="339.68666666666667" y2="422.172" stroke="#1b9350" stroke-width="0.9" />
<line x1="336.4866666666666" y1="422.5032" x2="339.68666666666667" y2="422.5032" stroke="#1b9350" stroke-width="0.9" />
<circle cx="338.08666666666664" cy="422.3376" r="1.1" fill="#1b9350" stroke="none" stroke-width="0"/>
<line x1="350.46666666666664" y1="421.4268" x2="350.46666666666664" y2="422.0892" stroke="#1b9350" stroke-width="0.9" />
<line x1="348.8666666666666" y1="421.4268" x2="352.06666666666666" y2="421.4268" stroke="#1b9350" stroke-width="0.9" />
<line x1="348.8666666666666" y1="422.0892" x2="352.06666666666666" y2="422.0892" stroke="#1b9350" stroke-width="0.9" />
<circle cx="350.46666666666664" cy="421.758" r="1.1" fill="#1b9350" stroke="none" stroke-width="0"/>
<line x1="362.84666666666664" y1="420.4332" x2="362.84666666666664" y2="421.4268" stroke="#1b9350" stroke-width="0.9" />
<line x1="361.2466666666666" y1="420.4332" x2="364.44666666666666" y2="420.4332" stroke="#1b9350" stroke-width="0.9" />
<line x1="361.2466666666666" y1="421.4268" x2="364.44666666666666" y2="421.4268" stroke="#1b9350" stroke-width="0.9" />
<circle cx="362.84666666666664" cy="420.93" r="1.1" fill="#1b9350" stroke="none" stroke-width="0"/>
<line x1="375.2266666666667" y1="418.5288" x2="375.2266666666667" y2="420.516" stroke="#1b9350" stroke-width="0.9" />
<line x1="373.62666666666667" y1="418.5288" x2="376.8266666666667" y2="418.5288" stroke="#1b9350" stroke-width="0.9" />
<line x1="373.62666666666667" y1="420.516" x2="376.8266666666667" y2="420.516" stroke="#1b9350" stroke-width="0.9" />
<circle cx="375.2266666666667" cy="419.5224" r="1.1" fill="#1b9350" stroke="none" stroke-width="0"/>
<line x1="387.6066666666667" y1="415.548" x2="387.6066666666667" y2="421.344" stroke="#1b9350" stroke-width="0.9" />
<line x1="386.00666666666666" y1="415.548" x2="389.2066666666667" y2="415.548" stroke="#1b9350" stroke-width="0.9" />
<line x1="386.00666666666666" y1="421.344" x2="389.2066666666667" y2="421.344" stroke="#1b9350" stroke-width="0.9" />
<circle cx="387.6066666666667" cy="418.446" r="1.1" fill="#1b9350" stroke="none" stroke-width="0"/>
<line x1="399.9866666666667" y1="414.4716" x2="399.9866666666667" y2="421.9236" stroke="#1b9350" stroke-width="0.9" />
<line x1="398.38666666666666" y1="414.4716" x2="401.5866666666667" y2="414.4716" stroke="#1b9350" stroke-width="0.9" />
<line x1="398.38666666666666" y1="421.9236" x2="401.5866666666667" y2="421.9236" stroke="#1b9350" stroke-width="0.9" />
<circle cx="399.9866666666667" cy="418.1976" r="1.1" fill="#1b9350" stroke="none" stroke-width="0"/>
<line x1="412.3666666666667" y1="412.236" x2="412.3666666666667" y2="421.344" stroke="#1b9350" stroke-width="0.9" />
<line x1="410.76666666666665" y1="412.236" x2="413.9666666666667" y2="412.236" stroke="#1b9350" stroke-width="0.9" />
<line x1="410.76666666666665" y1="421.344" x2="413.9666666666667" y2="421.344" stroke="#1b9350" stroke-width="0.9" />
<circle cx="412.3666666666667" cy="416.79" r="1.1" fill="#1b9350" stroke="none" stroke-width="0"/>
<line x1="424.74666666666667" y1="410.3316" x2="424.74666666666667" y2="419.4396" stroke="#1b9350" stroke-width="0.9" />
<line x1="423.14666666666665" y1="410.3316" x2="426.3466666666667" y2="410.3316" stroke="#1b9350" stroke-width="0.9" />
<line x1="423.14666666666665" y1="419.4396" x2="426.3466666666667" y2="419.4396" stroke="#1b9350" stroke-width="0.9" />
<circle cx="424.74666666666667" cy="414.8856" r="1.1" fill="#1b9350" stroke="none" stroke-width="0"/>
<polyline points="309.20,423.00 338.09,422.17 350.47,421.34 362.85,420.10 375.23,417.87 387.61,413.73 399.99,409.50 412.37,405.03 424.75,397.99" fill="none" stroke="#ee1d23" stroke-width="1.2"/>
<circle cx="309.2" cy="423.0" r="1.1" fill="#ee1d23" stroke="none" stroke-width="0"/>
<line x1="338.08666666666664" y1="421.9236" x2="338.08666666666664" y2="422.4204" stroke="#ee1d23" stroke-width="0.9" />
<line x1="336.4866666666666" y1="421.9236" x2="339.68666666666667" y2="421.9236" stroke="#ee1d23" stroke-width="0.9" />
<line x1="336.4866666666666" y1="422.4204" x2="339.68666666666667" y2="422.4204" stroke="#ee1d23" stroke-width="0.9" />
<circle cx="338.08666666666664" cy="422.172" r="1.1" fill="#ee1d23" stroke="none" stroke-width="0"/>
<line x1="350.46666666666664" y1="420.93" x2="350.46666666666664" y2="421.758" stroke="#ee1d23" stroke-width="0.9" />
<line x1="348.8666666666666" y1="420.93" x2="352.06666666666666" y2="420.93" stroke="#ee1d23" stroke-width="0.9" />
<line x1="348.8666666666666" y1="421.758" x2="352.06666666666666" y2="421.758" stroke="#ee1d23" stroke-width="0.9" />
<circle cx="350.46666666666664" cy="421.344" r="1.1" fill="#ee1d23" stroke="none" stroke-width="0"/>
<line x1="362.84666666666664" y1="419.4396" x2="362.84666666666664" y2="420.7644" stroke="#ee1d23" stroke-width="0.9" />
<line x1="361.2466666666666" y1="419.4396" x2="364.44666666666666" y2="419.4396" stroke="#ee1d23" stroke-width="0.9" />
<line x1="361.2466666666666" y1="420.7644" x2="364.44666666666666" y2="420.7644" stroke="#ee1d23" stroke-width="0.9" />
<circle cx="362.84666666666664" cy="420.102" r="1.1" fill="#ee1d23" stroke="none" stroke-width="0"/>
<line x1="375.2266666666667" y1="416.6244" x2="375.2266666666667" y2="419.1084" stroke="#ee1d23" stroke-width="0.9" />
<line x1="373.62666666666667" y1="416.6244" x2="376.8266666666667" y2="416.6244" stroke="#ee1d23" stroke-width="0.9" />
<line x1="373.62666666666667" y1="419.1084" x2="376.8266666666667" y2="419.1084" stroke="#ee1d23" stroke-width="0.9" />
<circle cx="375.2266666666667" cy="417.8664" r="1.1" fill="#ee1d23" stroke="none" stroke-width="0"/>
<line x1="387.6066666666667" y1="410.8284" x2="387.6066666666667" y2="416.6244" stroke="#ee1d23" stroke-width="0.9" />
<line x1="386.00666666666666" y1="410.8284" x2="389.2066666666667" y2="410.8284" stroke="#ee1d23" stroke-width="0.9" />
<line x1="386.00666666666666" y1="416.6244" x2="389.2066666666667" y2="416.6244" stroke="#ee1d23" stroke-width="0.9" />
<circle cx="387.6066666666667" cy="413.7264" r="1.1" fill="#ee1d23" stroke="none" stroke-width="0"/>
<line x1="399.9866666666667" y1="404.5356" x2="399.9866666666667" y2="414.4716" stroke="#ee1d23" stroke-width="0.9" />
<line x1="398.38666666666666" y1="404.5356" x2="401.5866666666667" y2="404.5356" stroke="#ee1d23" stroke-width="0.9" />
<line x1="398.38666666666666" y1="414.4716" x2="401.5866666666667" y2="414.4716" stroke="#ee1d23" stroke-width="0.9" />
<circle cx="399.9866666666667" cy="409.5036" r="1.1" fill="#ee1d23" stroke="none" stroke-width="0"/>
<line x1="412.3666666666667" y1="397.9944" x2="412.3666666666667" y2="412.0704" stroke="#ee1d23" stroke-width="0.9" />
<line x1="410.76666666666665" y1="397.9944" x2="413.9666666666667" y2="397.9944" stroke="#ee1d23" stroke-width="0.9" />
<line x1="410.76666666666665" y1="412.0704" x2="413.9666666666667" y2="412.0704" stroke="#ee1d23" stroke-width="0.9" />
<circle cx="412.3666666666667" cy="405.0324" r="1.1" fill="#ee1d23" stroke="none" stroke-width="0"/>
<line x1="424.74666666666667" y1="385.57439999999997" x2="424.74666666666667" y2="410.4144" stroke="#ee1d23" stroke-width="0.9" />
<line x1="423.14666666666665" y1="385.57439999999997" x2="426.3466666666667" y2="385.57439999999997" stroke="#ee1d23" stroke-width="0.9" />
<line x1="423.14666666666665" y1="410.4144" x2="426.3466666666667" y2="410.4144" stroke="#ee1d23" stroke-width="0.9" />
<circle cx="424.74666666666667" cy="397.9944" r="1.1" fill="#ee1d23" stroke="none" stroke-width="0"/>
<polyline points="309.20,423.00 338.09,422.01 350.47,420.93 362.85,419.27 375.23,416.29 387.61,411.82 399.99,408.01 412.37,403.05 424.75,396.59" fill="none" stroke="#2e3192" stroke-width="1.2"/>
<circle cx="309.2" cy="423.0" r="1.1" fill="#2e3192" stroke="none" stroke-width="0"/>
<line x1="338.08666666666664" y1="421.758" x2="338.08666666666664" y2="422.2548" stroke="#2e3192" stroke-width="0.9" />
<line x1="336.4866666666666" y1="421.758" x2="339.68666666666667" y2="421.758" stroke="#2e3192" stroke-width="0.9" />
<line x1="336.4866666666666" y1="422.2548" x2="339.68666666666667" y2="422.2548" stroke="#2e3192" stroke-width="0.9" />
<circle cx="338.08666666666664" cy="422.0064" r="1.1" fill="#2e3192" stroke="none" stroke-width="0"/>
<line x1="350.46666666666664" y1="420.516" x2="350.46666666666664" y2="421.344" stroke="#2e3192" stroke-width="0.9" />
<line x1="348.8666666666666" y1="420.516" x2="352.06666666666666" y2="420.516" stroke="#2e3192" stroke-width="0.9" />
<line x1="348.8666666666666" y1="421.344" x2="352.06666666666666" y2="421.344" stroke="#2e3192" stroke-width="0.9" />
<circle cx="350.46666666666664" cy="420.93" r="1.1" fill="#2e3192" stroke="none" stroke-width="0"/>
<line x1="362.84666666666664" y1="418.6116" x2="362.84666666666664" y2="419.9364" stroke="#2e3192" stroke-width="0.9" />
<line x1="361.2466666666666" y1="418.6116" x2="364.44666666666666" y2="418.6116" stroke="#2e3192" stroke-width="0.9" />
<line x1="361.2466666666666" y1="419.9364" x2="364.44666666666666" y2="419.9364" stroke="#2e3192" stroke-width="0.9" />
<circle cx="362.84666666666664" cy="419.274" r="1.1" fill="#2e3192" stroke="none" stroke-width="0"/>
<line x1="375.2266666666667" y1="415.0512" x2="375.2266666666667" y2="417.5352" stroke="#2e3192" stroke-width="0.9" />
<line x1="373.62666666666667" y1="415.0512" x2="376.8266666666667" y2="415.0512" stroke="#2e3192" stroke-width="0.9" />
<line x1="373.62666666666667" y1="417.5352" x2="376.8266666666667" y2="417.5352" stroke="#2e3192" stroke-width="0.9" />
<circle cx="375.2266666666667" cy="416.2932" r="1.1" fill="#2e3192" stroke="none" stroke-width="0"/>
<line x1="387.6066666666667" y1="408.51" x2="387.6066666666667" y2="415.134" stroke="#2e3192" stroke-width="0.9" />
<line x1="386.00666666666666" y1="408.51" x2="389.2066666666667" y2="408.51" stroke="#2e3192" stroke-width="0.9" />
<line x1="386.00666666666666" y1="415.134" x2="389.2066666666667" y2="415.134" stroke="#2e3192" stroke-width="0.9" />
<circle cx="387.6066666666667" cy="411.822" r="1.1" fill="#2e3192" stroke="none" stroke-width="0"/>
<line x1="399.9866666666667" y1="401.3892" x2="399.9866666666667" y2="414.6372" stroke="#2e3192" stroke-width="0.9" />
<line x1="398.38666666666666" y1="401.3892" x2="401.5866666666667" y2="401.3892" stroke="#2e3192" stroke-width="0.9" />
<line x1="398.38666666666666" y1="414.6372" x2="401.5866666666667" y2="414.6372" stroke="#2e3192" stroke-width="0.9" />
<circle cx="399.9866666666667" cy="408.0132" r="1.1" fill="#2e3192" stroke="none" stroke-width="0"/>
<line x1="412.3666666666667" y1="395.5932" x2="412.3666666666667" y2="410.4972" stroke="#2e3192" stroke-width="0.9" />
<line x1="410.76666666666665" y1="395.5932" x2="413.9666666666667" y2="395.5932" stroke="#2e3192" stroke-width="0.9" />
<line x1="410.76666666666665" y1="410.4972" x2="413.9666666666667" y2="410.4972" stroke="#2e3192" stroke-width="0.9" />
<circle cx="412.3666666666667" cy="403.0452" r="1.1" fill="#2e3192" stroke="none" stroke-width="0"/>
<line x1="424.74666666666667" y1="388.3068" x2="424.74666666666667" y2="404.8668" stroke="#2e3192" stroke-width="0.9" />
<line x1="423.14666666666665" y1="388.3068" x2="426.3466666666667" y2="388.3068" stroke="#2e3192" stroke-width="0.9" />
<line x1="423.14666666666665" y1="404.8668" x2="426.3466666666667" y2="404.8668" stroke="#2e3192" stroke-width="0.9" />
<circle cx="424.74666666666667" cy="396.5868" r="1.1" fill="#2e3192" stroke="none" stroke-width="0"/>
<polyline points="309.20,423.00 338.09,421.34 350.47,419.27 362.85,416.38 375.23,410.58 387.61,400.23 399.99,387.81 412.37,370.84 424.75,356.10" fill="none" stroke="#000" stroke-width="1.2"/>
<circle cx="309.2" cy="423.0" r="1.1" fill="#000" stroke="none" stroke-width="0"/>
<line x1="338.08666666666664" y1="421.0128" x2="338.08666666666664" y2="421.6752" stroke="#000" stroke-width="0.9" />
<line x1="336.4866666666666" y1="421.0128" x2="339.68666666666667" y2="421.0128" stroke="#000" stroke-width="0.9" />
<line x1="336.4866666666666" y1="421.6752" x2="339.68666666666667" y2="421.6752" stroke="#000" stroke-width="0.9" />
<circle cx="338.08666666666664" cy="421.344" r="1.1" fill="#000" stroke="none" stroke-width="0"/>
<line x1="350.46666666666664" y1="418.6116" x2="350.46666666666664" y2="419.9364" stroke="#000" stroke-width="0.9" />
<line x1="348.8666666666666" y1="418.6116" x2="352.06666666666666" y2="418.6116" stroke="#000" stroke-width="0.9" />
<line x1="348.8666666666666" y1="419.9364" x2="352.06666666666666" y2="419.9364" stroke="#000" stroke-width="0.9" />
<circle cx="350.46666666666664" cy="419.274" r="1.1" fill="#000" stroke="none" stroke-width="0"/>
<line x1="362.84666666666664" y1="415.3824" x2="362.84666666666664" y2="417.3696" stroke="#000" stroke-width="0.9" />
<line x1="361.2466666666666" y1="415.3824" x2="364.44666666666666" y2="415.3824" stroke="#000" stroke-width="0.9" />
<line x1="361.2466666666666" y1="417.3696" x2="364.44666666666666" y2="417.3696" stroke="#000" stroke-width="0.9" />
<circle cx="362.84666666666664" cy="416.376" r="1.1" fill="#000" stroke="none" stroke-width="0"/>
<line x1="375.2266666666667" y1="407.9304" x2="375.2266666666667" y2="413.2296" stroke="#000" stroke-width="0.9" />
<line x1="373.62666666666667" y1="407.9304" x2="376.8266666666667" y2="407.9304" stroke="#000" stroke-width="0.9" />
<line x1="373.62666666666667" y1="413.2296" x2="376.8266666666667" y2="413.2296" stroke="#000" stroke-width="0.9" />
<circle cx="375.2266666666667" cy="410.58" r="1.1" fill="#000" stroke="none" stroke-width="0"/>
<line x1="387.6066666666667" y1="395.0964" x2="387.6066666666667" y2="405.3636" stroke="#000" stroke-width="0.9" />
<line x1="386.00666666666666" y1="395.0964" x2="389.2066666666667" y2="395.0964" stroke="#000" stroke-width="0.9" />
<line x1="386.00666666666666" y1="405.3636" x2="389.2066666666667" y2="405.3636" stroke="#000" stroke-width="0.9" />
<circle cx="387.6066666666667" cy="400.23" r="1.1" fill="#000" stroke="none" stroke-width="0"/>
<line x1="399.9866666666667" y1="380.358" x2="399.9866666666667" y2="395.262" stroke="#000" stroke-width="0.9" />
<line x1="398.38666666666666" y1="380.358" x2="401.5866666666667" y2="380.358" stroke="#000" stroke-width="0.9" />
<line x1="398.38666666666666" y1="395.262" x2="401.5866666666667" y2="395.262" stroke="#000" stroke-width="0.9" />
<circle cx="399.9866666666667" cy="387.81" r="1.1" fill="#000" stroke="none" stroke-width="0"/>
<line x1="412.3666666666667" y1="361.31399999999996" x2="412.3666666666667" y2="380.358" stroke="#000" stroke-width="0.9" />
<line x1="410.76666666666665" y1="361.31399999999996" x2="413.9666666666667" y2="361.31399999999996" stroke="#000" stroke-width="0.9" />
<line x1="410.76666666666665" y1="380.358" x2="413.9666666666667" y2="380.358" stroke="#000" stroke-width="0.9" />
<circle cx="412.3666666666667" cy="370.836" r="1.1" fill="#000" stroke="none" stroke-width="0"/>
<line x1="424.74666666666667" y1="344.50559999999996" x2="424.74666666666667" y2="367.6896" stroke="#000" stroke-width="0.9" />
<line x1="423.14666666666665" y1="344.50559999999996" x2="426.3466666666667" y2="344.50559999999996" stroke="#000" stroke-width="0.9" />
<line x1="423.14666666666665" y1="367.6896" x2="426.3466666666667" y2="367.6896" stroke="#000" stroke-width="0.9" />
<circle cx="424.74666666666667" cy="356.0976" r="1.1" fill="#000" stroke="none" stroke-width="0"/>
<line x1="443.75" y1="345.5" x2="452.5" y2="345.5" stroke="#000" stroke-width="1" />
<circle cx="448.1" cy="345.5" r="1.1" fill="#000" stroke="none" stroke-width="0"/>
<text x="457.5" y="348.8" font-size="9.2" text-anchor="start" fill="#000" >Control+IgG</text>
<line x1="443.75" y1="359.3" x2="452.5" y2="359.3" stroke="#2e3192" stroke-width="1" />
<circle cx="448.1" cy="359.3" r="1.1" fill="#2e3192" stroke="none" stroke-width="0"/>
<text x="457.5" y="362.6" font-size="9.2" text-anchor="start" fill="#000" >Control+α-PD-L1</text>
<line x1="443.75" y1="373.1" x2="452.5" y2="373.1" stroke="#ee1d23" stroke-width="1" />
<circle cx="448.1" cy="373.1" r="1.1" fill="#ee1d23" stroke="none" stroke-width="0"/>
<text x="457.5" y="376.40000000000003" font-size="9.2" text-anchor="start" fill="#000" >Sitagliptin+IgG</text>
<line x1="443.75" y1="386.9" x2="452.5" y2="386.9" stroke="#1b9350" stroke-width="1" />
<circle cx="448.1" cy="386.9" r="1.1" fill="#1b9350" stroke="none" stroke-width="0"/>
<text x="457.5" y="390.2" font-size="9.2" text-anchor="start" fill="#000" >Sitagliptin+α-PD-L1</text>
<text x="552.2" y="335.4" font-size="16" text-anchor="start" fill="#000" >J</text>
<text x="575.6" y="391.5" font-size="10.4" text-anchor="middle" fill="#000" transform="rotate(-90 575.6 391.5)" >IFN-γ<tspan dy="-4" font-size="7">+</tspan><tspan dy="4"> cells/10</tspan><tspan dy="-4" font-size="7">6</tspan><tspan dy="4"> cells</tspan></text>
<line x1="593.9" y1="351.75" x2="593.9" y2="434.5" stroke="#000" stroke-width="1" />
<line x1="591.4" y1="351.75" x2="593.9" y2="351.75" stroke="#000" stroke-width="1" />
<text x="590.6" y="354.09" font-size="6.5" text-anchor="end" fill="#222" >800</text>
<line x1="591.4" y1="372.4" x2="593.9" y2="372.4" stroke="#000" stroke-width="1" />
<text x="590.6" y="374.73999999999995" font-size="6.5" text-anchor="end" fill="#222" >600</text>
<line x1="591.4" y1="393.1" x2="593.9" y2="393.1" stroke="#000" stroke-width="1" />
<text x="590.6" y="395.44" font-size="6.5" text-anchor="end" fill="#222" >400</text>
<line x1="591.4" y1="413.8" x2="593.9" y2="413.8" stroke="#000" stroke-width="1" />
<text x="590.6" y="416.14" font-size="6.5" text-anchor="end" fill="#222" >200</text>
<line x1="591.4" y1="434.5" x2="593.9" y2="434.5" stroke="#000" stroke-width="1" />
<text x="590.6" y="436.84" font-size="6.5" text-anchor="end" fill="#222" >0</text>
<line x1="593.9" y1="434.5" x2="675.5" y2="434.5" stroke="#000" stroke-width="1" />
<rect x="600.5" y="416.3" width="12.299999999999955" height="18.19999999999999" fill="none" stroke="#000" stroke-width="1.1" />
<rect x="619.4" y="389.3" width="12.300000000000068" height="45.19999999999999" fill="none" stroke="#2e3192" stroke-width="1.1" />
<rect x="638.3" y="393.3" width="12.300000000000068" height="41.19999999999999" fill="none" stroke="#ee1d23" stroke-width="1.1" />
<rect x="657.3" y="375.2" width="12.300000000000068" height="59.30000000000001" fill="none" stroke="#1b9350" stroke-width="1.1" />
<circle cx="606.5" cy="409.4" r="1.9" fill="#999" stroke="#111" stroke-width="0.9"/>
<circle cx="601.6" cy="415.2" r="1.9" fill="#999" stroke="#111" stroke-width="0.9"/>
<circle cx="611.4" cy="418.3" r="1.9" fill="#999" stroke="#111" stroke-width="0.9"/>
<circle cx="606.5" cy="422.8" r="1.9" fill="#999" stroke="#111" stroke-width="0.9"/>
<line x1="606.6" y1="413.8" x2="606.6" y2="419.2" stroke="#000" stroke-width="1" />
<line x1="603.6" y1="413.8" x2="609.6" y2="413.8" stroke="#000" stroke-width="1" />
<line x1="603.6" y1="419.2" x2="609.6" y2="419.2" stroke="#000" stroke-width="1" />
<polygon points="618.9,378.69 622.6999999999999,378.69 620.8,382.10999999999996" fill="#2e3192"/>
<polygon points="628.7,381.69 632.5,381.69 630.6,385.10999999999996" fill="#2e3192"/>
<polygon points="618.9,386.69 622.6999999999999,386.69 620.8,390.10999999999996" fill="#2e3192"/>
<polygon points="628.7,386.69 632.5,386.69 630.6,390.10999999999996" fill="#2e3192"/>
<polygon points="623.9,401.29 627.6999999999999,401.29 625.8,404.71" fill="#2e3192"/>
<line x1="625.7" y1="385.4" x2="625.7" y2="392.9" stroke="#2e3192" stroke-width="1" />
<line x1="622.7" y1="385.4" x2="628.7" y2="385.4" stroke="#2e3192" stroke-width="1" />
<line x1="622.7" y1="392.9" x2="628.7" y2="392.9" stroke="#2e3192" stroke-width="1" />
<polygon points="642.5,384.6 646.5,384.6 644.5,381.0" fill="#ee1d23"/>
<polygon points="638.0,390.55 642.0,390.55 640,386.95" fill="#ee1d23"/>
<polygon points="647.8,390.55 651.8,390.55 649.8,386.95" fill="#ee1d23"/>
<polygon points="642.5,392.6 646.5,392.6 644.5,389.0" fill="#ee1d23"/>
<polygon points="642.5,407.8 646.5,407.8 644.5,404.2" fill="#ee1d23"/>
<line x1="644.5" y1="387.2" x2="644.5" y2="398.8" stroke="#ee1d23" stroke-width="1" />
<line x1="641.5" y1="387.2" x2="647.5" y2="387.2" stroke="#ee1d23" stroke-width="1" />
<line x1="641.5" y1="398.8" x2="647.5" y2="398.8" stroke="#ee1d23" stroke-width="1" />
<polygon points="659.2,366.1 661.1,368 659.2,369.9 657.3000000000001,368" fill="#1b9350"/>
<polygon points="668.6,365.20000000000005 670.5,367.1 668.6,369.0 666.7,367.1" fill="#1b9350"/>
<polygon points="663.7,374.6 665.6,376.5 663.7,378.4 661.8000000000001,376.5" fill="#1b9350"/>
<polygon points="663.7,384.70000000000005 665.6,386.6 663.7,388.5 661.8000000000001,386.6" fill="#1b9350"/>
<line x1="663.7" y1="370.5" x2="663.7" y2="379.2" stroke="#1b9350" stroke-width="1" />
<line x1="660.7" y1="370.5" x2="666.7" y2="370.5" stroke="#1b9350" stroke-width="1" />
<line x1="660.7" y1="379.2" x2="666.7" y2="379.2" stroke="#1b9350" stroke-width="1" />
<path d="M604.5,378.8 V375 H627 V378.8" fill="none" stroke="#000" stroke-width="1.3"/>
<text x="616.55" y="374.7" font-size="9.5" text-anchor="middle" fill="#000" font-weight="bold" letter-spacing="1.6">***</text>
<path d="M604.5,365.5 V361.7 H646.3 V365.5" fill="none" stroke="#000" stroke-width="1.3"/>
<text x="625.4" y="361.4" font-size="9.5" text-anchor="middle" fill="#000" font-weight="bold" letter-spacing="0">*</text>
<path d="M625.5,349.3 V345.5 H665 V349.3" fill="none" stroke="#000" stroke-width="1.3"/>
<text x="645.25" y="345.2" font-size="9.5" text-anchor="middle" fill="#000" font-weight="bold" letter-spacing="0">*</text>
<circle cx="693.5" cy="360.5" r="2.0" fill="#999" stroke="#111" stroke-width="0.9"/>
<text x="703" y="363.8" font-size="9.2" text-anchor="start" fill="#000" >Control+IgG</text>
<polygon points="691.6,371.99 695.4,371.99 693.5,375.40999999999997" fill="#2e3192"/>
<text x="703" y="377.0" font-size="9.2" text-anchor="start" fill="#000" >Control+α-PD-L1</text>
<polygon points="691.6,388.60999999999996 695.4,388.60999999999996 693.5,385.19" fill="#ee1d23"/>
<text x="703" y="390.2" font-size="9.2" text-anchor="start" fill="#000" >Sitagliptin+IgG</text>
<polygon points="693.5,398.0 695.6,400.1 693.5,402.20000000000005 691.4,400.1" fill="#1b9350"/>
<text x="703" y="403.40000000000003" font-size="9.2" text-anchor="start" fill="#000" >Sitagliptin+α-PD-L1</text>
<line x1="404" y1="191.7" x2="404" y2="276.6" stroke="#000" stroke-width="0.9" />
<line x1="404" y1="276.6" x2="489.5" y2="276.6" stroke="#000" stroke-width="0.9" />
<line x1="402" y1="210.2" x2="404" y2="210.2" stroke="#000" stroke-width="0.9" />
<text x="400.8" y="212.39999999999998" font-size="6.2" text-anchor="end" fill="#222" >5</text>
<line x1="402" y1="234.1" x2="404" y2="234.1" stroke="#000" stroke-width="0.9" />
<text x="400.8" y="236.29999999999998" font-size="6.2" text-anchor="end" fill="#222" >0</text>
<line x1="402" y1="257.5" x2="404" y2="257.5" stroke="#000" stroke-width="0.9" />
<text x="400.8" y="259.7" font-size="6.2" text-anchor="end" fill="#222" >-5</text>
<line x1="421.3" y1="276.6" x2="421.3" y2="278.6" stroke="#000" stroke-width="0.9" />
<text x="421.3" y="286.4" font-size="6.3" text-anchor="middle" fill="#222" >-4</text>
<line x1="445.9" y1="276.6" x2="445.9" y2="278.6" stroke="#000" stroke-width="0.9" />
<text x="445.9" y="286.4" font-size="6.3" text-anchor="middle" fill="#222" >0</text>
<line x1="471.1" y1="276.6" x2="471.1" y2="278.6" stroke="#000" stroke-width="0.9" />
<text x="471.1" y="286.4" font-size="6.3" text-anchor="middle" fill="#222" >4</text>
<text x="447.8" y="187.6" font-size="9.3" text-anchor="middle" fill="#000" >Control</text>
<g transform="translate(0,0)">
<path d="M444.00,230.00 C445.33,228.00 448.00,228.17 450.00,228.00 C452.00,227.83 454.33,228.00 456.00,229.00 C457.67,230.00 458.83,232.50 460.00,234.00 C461.17,235.50 461.83,237.00 463.00,238.00 C464.17,239.00 466.00,238.50 467.00,240.00 C468.00,241.50 469.00,245.17 469.00,247.00 C469.00,248.83 468.17,250.50 467.00,251.00 C465.83,251.50 464.00,250.50 462.00,250.00 C460.00,249.50 457.50,248.67 455.00,248.00 C452.50,247.33 449.17,247.33 447.00,246.00 C444.83,244.67 442.50,242.67 442.00,240.00 C441.50,237.33 442.67,232.00 444.00,230.00 Z" fill="#d6d6d6" fill-opacity="0.35" stroke="none"/>
<path d="M461.50,238.00 C461.92,236.58 463.08,236.17 464.00,236.50 C464.92,236.83 466.17,238.42 467.00,240.00 C467.83,241.58 468.83,244.17 469.00,246.00 C469.17,247.83 468.83,250.25 468.00,251.00 C467.17,251.75 465.08,251.50 464.00,250.50 C462.92,249.50 461.92,247.08 461.50,245.00 C461.08,242.92 461.08,239.42 461.50,238.00 Z" fill="#d6d6d6" fill-opacity="0.9" stroke="none"/>
<path d="M447.60,213.40 C449.98,212.53 456.52,212.92 458.30,214.25 C460.08,215.58 458.75,219.18 458.30,221.40 C457.85,223.62 456.78,225.97 455.60,227.60 C454.42,229.23 452.83,230.63 451.20,231.20 C449.57,231.77 447.50,231.53 445.80,231.00 C444.10,230.47 441.88,229.33 441.00,228.00 C440.12,226.67 440.00,224.42 440.50,223.00 C441.00,221.58 442.82,221.10 444.00,219.50 C445.18,217.90 445.22,214.28 447.60,213.40 Z" fill="#95eeb5" fill-opacity="0.8" stroke="none"/>
<path d="M460.10,213.40 C461.29,211.92 465.60,212.07 467.25,212.50 C468.90,212.93 470.00,214.52 470.00,216.00 C470.00,217.48 467.85,219.47 467.25,221.40 C466.65,223.33 466.69,225.07 466.40,227.60 C466.11,230.13 466.10,234.95 465.50,236.60 C464.90,238.25 463.55,238.55 462.80,237.50 C462.05,236.45 461.45,232.98 461.00,230.30 C460.55,227.62 460.25,224.22 460.10,221.40 C459.95,218.58 458.91,214.88 460.10,213.40 Z" fill="#95eeb5" fill-opacity="0.8" stroke="none"/>
<path d="M422.00,219.00 C422.83,217.83 425.17,217.67 427.00,218.00 C428.83,218.33 431.50,219.67 433.00,221.00 C434.50,222.33 436.00,224.67 436.00,226.00 C436.00,227.33 434.67,228.50 433.00,229.00 C431.33,229.50 427.83,229.67 426.00,229.00 C424.17,228.33 422.67,226.67 422.00,225.00 C421.33,223.33 421.17,220.17 422.00,219.00 Z" fill="#5db82a" fill-opacity="0.55" stroke="none"/>
<path d="M407.75,236.00 C407.75,234.58 409.62,233.50 411.50,232.50 C413.38,231.50 416.08,230.62 419.00,230.00 C421.92,229.38 425.67,228.58 429.00,228.75 C432.33,228.92 436.92,230.04 439.00,231.00 C441.08,231.96 441.92,233.29 441.50,234.50 C441.08,235.71 438.17,237.21 436.50,238.25 C434.83,239.29 433.38,239.54 431.50,240.75 C429.62,241.96 427.33,244.71 425.25,245.50 C423.17,246.29 421.29,246.25 419.00,245.50 C416.71,244.75 413.38,242.58 411.50,241.00 C409.62,239.42 407.75,237.42 407.75,236.00 Z" fill="#5db82a" fill-opacity="1.0" stroke="none"/>
<path d="M413.40,195.60 C414.07,194.87 415.98,195.00 417.75,195.00 C419.52,195.00 422.12,195.08 424.00,195.60 C425.88,196.12 427.33,196.95 429.00,198.10 C430.67,199.25 432.71,201.14 434.00,202.50 C435.29,203.86 436.23,204.79 436.75,206.25 C437.27,207.71 437.35,209.58 437.10,211.25 C436.85,212.92 436.28,215.04 435.25,216.25 C434.22,217.46 432.46,218.04 430.90,218.50 C429.34,218.96 427.47,219.27 425.90,219.00 C424.33,218.73 422.55,217.78 421.50,216.90 C420.45,216.03 420.12,215.11 419.60,213.75 C419.08,212.39 419.02,210.42 418.40,208.75 C417.78,207.08 416.67,205.31 415.90,203.75 C415.12,202.19 414.17,200.76 413.75,199.40 C413.33,198.04 412.73,196.33 413.40,195.60 Z" fill="#e8b22a" fill-opacity="1.0" stroke="none"/>
<path d="M434.00,207.50 C435.14,206.36 438.38,206.15 440.25,206.25 C442.12,206.35 444.00,207.16 445.25,208.10 C446.50,209.04 447.54,210.65 447.75,211.90 C447.96,213.15 447.33,214.67 446.50,215.60 C445.67,216.53 443.58,216.56 442.75,217.50 C441.92,218.44 442.02,221.04 441.50,221.25 C440.98,221.46 440.64,219.47 439.60,218.75 C438.56,218.03 436.28,217.84 435.25,216.90 C434.22,215.96 433.61,214.67 433.40,213.10 C433.19,211.53 432.86,208.64 434.00,207.50 Z" fill="#a48cf0" fill-opacity="1.0" stroke="none"/>
<path d="M443.75,202.50 C444.58,201.77 447.29,201.02 450.00,200.60 C452.71,200.18 457.33,200.52 460.00,200.00 C462.67,199.48 463.71,197.83 466.00,197.50 C468.29,197.17 472.08,197.17 473.75,198.00 C475.42,198.83 476.00,200.33 476.00,202.50 C476.00,204.67 474.96,209.25 473.75,211.00 C472.54,212.75 470.88,212.54 468.75,213.00 C466.62,213.46 462.88,214.25 461.00,213.75 C459.12,213.25 459.33,211.04 457.50,210.00 C455.67,208.96 452.08,208.33 450.00,207.50 C447.92,206.67 446.04,205.83 445.00,205.00 C443.96,204.17 442.92,203.23 443.75,202.50 Z" fill="#dd18dd" fill-opacity="1.0" stroke="none"/>
<path d="M466.00,221.00 C466.58,219.75 469.08,217.88 471.00,217.50 C472.92,217.12 475.58,217.92 477.50,218.75 C479.42,219.58 481.15,221.29 482.50,222.50 C483.85,223.71 485.39,224.75 485.60,226.00 C485.81,227.25 485.10,229.23 483.75,230.00 C482.40,230.77 479.38,230.81 477.50,230.60 C475.62,230.39 474.17,229.68 472.50,228.75 C470.83,227.82 468.58,226.29 467.50,225.00 C466.42,223.71 465.42,222.25 466.00,221.00 Z" fill="#ff1010" fill-opacity="1.0" stroke="none"/>
<path d="M428.40,243.50 C429.44,242.04 432.23,240.58 434.00,239.75 C435.77,238.92 437.75,237.88 439.00,238.50 C440.25,239.12 440.46,241.62 441.50,243.50 C442.54,245.38 445.25,248.08 445.25,249.75 C445.25,251.42 443.17,252.71 441.50,253.50 C439.83,254.29 437.33,254.71 435.25,254.50 C433.17,254.29 430.25,253.25 429.00,252.25 C427.75,251.25 427.85,249.96 427.75,248.50 C427.65,247.04 427.36,244.96 428.40,243.50 Z" fill="#f2786a" fill-opacity="1.0" stroke="none"/>
<path d="M426.00,252.00 C426.83,250.50 429.25,252.58 431.00,253.00 C432.75,253.42 434.83,254.58 436.50,254.50 C438.17,254.42 439.58,253.17 441.00,252.50 C442.42,251.83 443.50,251.58 445.00,250.50 C446.50,249.42 448.50,247.00 450.00,246.00 C451.50,245.00 451.92,244.33 454.00,244.50 C456.08,244.67 460.33,245.29 462.50,247.00 C464.67,248.71 466.38,251.58 467.00,254.75 C467.62,257.92 467.21,263.29 466.25,266.00 C465.29,268.71 463.96,269.85 461.25,271.00 C458.54,272.15 454.21,272.65 450.00,272.90 C445.79,273.15 439.50,273.07 436.00,272.50 C432.50,271.93 430.67,271.25 429.00,269.50 C427.33,267.75 426.50,264.92 426.00,262.00 C425.50,259.08 425.17,253.50 426.00,252.00 Z" fill="#1fb3ec" fill-opacity="1.0" stroke="none"/>
</g>
<g opacity="0.8"><rect x="460.4" y="243.8" width="0.8" height="0.8" fill="#d6d6d6"/><rect x="460.2" y="242.5" width="0.8" height="0.8" fill="#d6d6d6"/><rect x="461.1" y="238.7" width="0.8" height="0.8" fill="#d6d6d6"/><rect x="466.6" y="251.7" width="0.8" height="0.8" fill="#d6d6d6"/><rect x="461.3" y="236.8" width="0.8" height="0.8" fill="#d6d6d6"/><rect x="463.1" y="249.4" width="0.8" height="0.8" fill="#d6d6d6"/><rect x="460.4" y="238.4" width="0.8" height="0.8" fill="#d6d6d6"/><rect x="467.7" y="239.9" width="0.8" height="0.8" fill="#d6d6d6"/><rect x="461.4" y="243.5" width="0.8" height="0.8" fill="#d6d6d6"/><rect x="440.0" y="226.6" width="0.8" height="0.8" fill="#95eeb5"/><rect x="440.0" y="228.0" width="0.8" height="0.8" fill="#95eeb5"/><rect x="440.4" y="221.2" width="0.8" height="0.8" fill="#95eeb5"/><rect x="459.2" y="214.8" width="0.8" height="0.8" fill="#95eeb5"/><rect x="453.1" y="212.8" width="0.8" height="0.8" fill="#95eeb5"/><rect x="444.1" y="219.0" width="0.8" height="0.8" fill="#95eeb5"/><rect x="446.5" y="214.2" width="0.8" height="0.8" fill="#95eeb5"/><rect x="450.3" y="212.2" width="0.8" height="0.8" fill="#95eeb5"/><rect x="450.0" y="232.5" width="0.8" height="0.8" fill="#95eeb5"/><rect x="457.1" y="226.5" width="0.8" height="0.8" fill="#95eeb5"/><rect x="445.7" y="216.4" width="0.8" height="0.8" fill="#95eeb5"/><rect x="456.2" y="227.4" width="0.8" height="0.8" fill="#95eeb5"/><rect x="459.1" y="221.2" width="0.8" height="0.8" fill="#95eeb5"/><rect x="459.1" y="219.4" width="0.8" height="0.8" fill="#95eeb5"/><rect x="452.0" y="230.8" width="0.8" height="0.8" fill="#95eeb5"/><rect x="440.5" y="225.7" width="0.8" height="0.8" fill="#95eeb5"/><rect x="467.9" y="224.4" width="0.8" height="0.8" fill="#95eeb5"/><rect x="460.8" y="233.3" width="0.8" height="0.8" fill="#95eeb5"/><rect x="463.6" y="237.8" width="0.8" height="0.8" fill="#95eeb5"/><rect x="465.1" y="237.4" width="0.8" height="0.8" fill="#95eeb5"/><rect x="465.8" y="236.6" width="0.8" height="0.8" fill="#95eeb5"/><rect x="465.1" y="211.3" width="0.8" height="0.8" fill="#95eeb5"/><rect x="467.6" y="226.6" width="0.8" height="0.8" fill="#95eeb5"/><rect x="459.9" y="226.7" width="0.8" height="0.8" fill="#95eeb5"/><rect x="464.5" y="237.6" width="0.8" height="0.8" fill="#95eeb5"/><rect x="465.5" y="237.7" width="0.8" height="0.8" fill="#95eeb5"/><rect x="469.0" y="214.7" width="0.8" height="0.8" fill="#95eeb5"/><rect x="460.1" y="223.4" width="0.8" height="0.8" fill="#95eeb5"/><rect x="459.5" y="217.6" width="0.8" height="0.8" fill="#95eeb5"/><rect x="460.5" y="231.2" width="0.8" height="0.8" fill="#95eeb5"/><rect x="420.5" y="221.0" width="0.8" height="0.8" fill="#5db82a"/><rect x="434.0" y="230.2" width="0.8" height="0.8" fill="#5db82a"/><rect x="425.0" y="218.1" width="0.8" height="0.8" fill="#5db82a"/><rect x="427.6" y="229.4" width="0.8" height="0.8" fill="#5db82a"/><rect x="429.9" y="229.6" width="0.8" height="0.8" fill="#5db82a"/><rect x="424.9" y="218.1" width="0.8" height="0.8" fill="#5db82a"/><rect x="422.1" y="218.6" width="0.8" height="0.8" fill="#5db82a"/><rect x="421.1" y="219.2" width="0.8" height="0.8" fill="#5db82a"/><rect x="433.5" y="220.4" width="0.8" height="0.8" fill="#5db82a"/><rect x="429.0" y="218.8" width="0.8" height="0.8" fill="#5db82a"/><rect x="426.3" y="216.5" width="0.8" height="0.8" fill="#5db82a"/><rect x="434.6" y="222.5" width="0.8" height="0.8" fill="#5db82a"/><rect x="432.3" y="230.4" width="0.8" height="0.8" fill="#5db82a"/><rect x="415.5" y="230.5" width="0.8" height="0.8" fill="#5db82a"/><rect x="434.0" y="240.4" width="0.8" height="0.8" fill="#5db82a"/><rect x="433.0" y="240.1" width="0.8" height="0.8" fill="#5db82a"/><rect x="427.8" y="245.1" width="0.8" height="0.8" fill="#5db82a"/><rect x="431.4" y="241.1" width="0.8" height="0.8" fill="#5db82a"/><rect x="430.6" y="228.5" width="0.8" height="0.8" fill="#5db82a"/><rect x="434.6" y="239.6" width="0.8" height="0.8" fill="#5db82a"/><rect x="429.9" y="228.7" width="0.8" height="0.8" fill="#5db82a"/><rect x="411.5" y="232.3" width="0.8" height="0.8" fill="#5db82a"/><rect x="431.0" y="241.1" width="0.8" height="0.8" fill="#5db82a"/><rect x="439.3" y="231.2" width="0.8" height="0.8" fill="#5db82a"/><rect x="406.6" y="236.4" width="0.8" height="0.8" fill="#5db82a"/><rect x="437.3" y="229.6" width="0.8" height="0.8" fill="#5db82a"/><rect x="416.6" y="246.0" width="0.8" height="0.8" fill="#5db82a"/><rect x="419.9" y="246.4" width="0.8" height="0.8" fill="#5db82a"/><rect x="432.8" y="228.2" width="0.8" height="0.8" fill="#5db82a"/><rect x="434.1" y="240.1" width="0.8" height="0.8" fill="#5db82a"/><rect x="418.7" y="229.0" width="0.8" height="0.8" fill="#5db82a"/><rect x="427.2" y="245.0" width="0.8" height="0.8" fill="#5db82a"/><rect x="422.6" y="218.8" width="0.8" height="0.8" fill="#e8b22a"/><rect x="434.1" y="216.8" width="0.8" height="0.8" fill="#e8b22a"/><rect x="437.2" y="213.2" width="0.8" height="0.8" fill="#e8b22a"/><rect x="437.7" y="211.1" width="0.8" height="0.8" fill="#e8b22a"/><rect x="437.7" y="212.7" width="0.8" height="0.8" fill="#e8b22a"/><rect x="420.3" y="194.1" width="0.8" height="0.8" fill="#e8b22a"/><rect x="429.9" y="218.7" width="0.8" height="0.8" fill="#e8b22a"/><rect x="418.2" y="194.4" width="0.8" height="0.8" fill="#e8b22a"/><rect x="430.3" y="198.9" width="0.8" height="0.8" fill="#e8b22a"/><rect x="429.9" y="219.4" width="0.8" height="0.8" fill="#e8b22a"/><rect x="416.0" y="204.2" width="0.8" height="0.8" fill="#e8b22a"/><rect x="415.9" y="194.9" width="0.8" height="0.8" fill="#e8b22a"/><rect x="436.1" y="217.6" width="0.8" height="0.8" fill="#e8b22a"/><rect x="416.6" y="193.5" width="0.8" height="0.8" fill="#e8b22a"/><rect x="422.1" y="218.6" width="0.8" height="0.8" fill="#e8b22a"/><rect x="413.0" y="195.2" width="0.8" height="0.8" fill="#e8b22a"/><rect x="432.0" y="218.0" width="0.8" height="0.8" fill="#e8b22a"/><rect x="437.7" y="210.3" width="0.8" height="0.8" fill="#e8b22a"/><rect x="419.1" y="213.0" width="0.8" height="0.8" fill="#e8b22a"/><rect x="429.8" y="196.8" width="0.8" height="0.8" fill="#e8b22a"/><rect x="434.5" y="201.5" width="0.8" height="0.8" fill="#e8b22a"/><rect x="431.8" y="198.9" width="0.8" height="0.8" fill="#e8b22a"/><rect x="434.5" y="218.5" width="0.8" height="0.8" fill="#e8b22a"/><rect x="438.1" y="209.4" width="0.8" height="0.8" fill="#e8b22a"/><rect x="419.0" y="214.7" width="0.8" height="0.8" fill="#e8b22a"/><rect x="432.7" y="206.3" width="0.8" height="0.8" fill="#a48cf0"/><rect x="443.0" y="206.1" width="0.8" height="0.8" fill="#a48cf0"/><rect x="434.5" y="217.4" width="0.8" height="0.8" fill="#a48cf0"/><rect x="439.2" y="219.7" width="0.8" height="0.8" fill="#a48cf0"/><rect x="433.2" y="216.0" width="0.8" height="0.8" fill="#a48cf0"/><rect x="440.9" y="221.7" width="0.8" height="0.8" fill="#a48cf0"/><rect x="433.6" y="213.6" width="0.8" height="0.8" fill="#a48cf0"/><rect x="435.1" y="206.8" width="0.8" height="0.8" fill="#a48cf0"/><rect x="440.2" y="205.4" width="0.8" height="0.8" fill="#a48cf0"/><rect x="448.2" y="211.7" width="0.8" height="0.8" fill="#a48cf0"/><rect x="447.8" y="216.0" width="0.8" height="0.8" fill="#a48cf0"/><rect x="446.4" y="207.4" width="0.8" height="0.8" fill="#a48cf0"/><rect x="445.7" y="208.6" width="0.8" height="0.8" fill="#a48cf0"/><rect x="438.8" y="220.2" width="0.8" height="0.8" fill="#a48cf0"/><rect x="446.4" y="207.9" width="0.8" height="0.8" fill="#a48cf0"/><rect x="433.8" y="209.0" width="0.8" height="0.8" fill="#a48cf0"/><rect x="458.4" y="199.5" width="0.8" height="0.8" fill="#dd18dd"/><rect x="464.8" y="197.6" width="0.8" height="0.8" fill="#dd18dd"/><rect x="476.0" y="198.7" width="0.8" height="0.8" fill="#dd18dd"/><rect x="474.8" y="199.3" width="0.8" height="0.8" fill="#dd18dd"/><rect x="460.0" y="214.0" width="0.8" height="0.8" fill="#dd18dd"/><rect x="466.3" y="213.5" width="0.8" height="0.8" fill="#dd18dd"/><rect x="446.1" y="206.4" width="0.8" height="0.8" fill="#dd18dd"/><rect x="457.8" y="199.5" width="0.8" height="0.8" fill="#dd18dd"/><rect x="468.6" y="197.0" width="0.8" height="0.8" fill="#dd18dd"/><rect x="460.3" y="213.5" width="0.8" height="0.8" fill="#dd18dd"/><rect x="473.2" y="211.3" width="0.8" height="0.8" fill="#dd18dd"/><rect x="475.5" y="210.3" width="0.8" height="0.8" fill="#dd18dd"/><rect x="475.7" y="198.8" width="0.8" height="0.8" fill="#dd18dd"/><rect x="449.1" y="207.9" width="0.8" height="0.8" fill="#dd18dd"/><rect x="451.5" y="208.6" width="0.8" height="0.8" fill="#dd18dd"/><rect x="476.5" y="200.3" width="0.8" height="0.8" fill="#dd18dd"/><rect x="458.8" y="212.4" width="0.8" height="0.8" fill="#dd18dd"/><rect x="457.6" y="210.2" width="0.8" height="0.8" fill="#dd18dd"/><rect x="449.6" y="208.2" width="0.8" height="0.8" fill="#dd18dd"/><rect x="483.2" y="230.6" width="0.8" height="0.8" fill="#ff1010"/><rect x="466.8" y="219.4" width="0.8" height="0.8" fill="#ff1010"/><rect x="464.8" y="220.2" width="0.8" height="0.8" fill="#ff1010"/><rect x="470.8" y="227.7" width="0.8" height="0.8" fill="#ff1010"/><rect x="465.0" y="222.8" width="0.8" height="0.8" fill="#ff1010"/><rect x="472.3" y="229.6" width="0.8" height="0.8" fill="#ff1010"/><rect x="485.1" y="224.2" width="0.8" height="0.8" fill="#ff1010"/><rect x="473.1" y="230.5" width="0.8" height="0.8" fill="#ff1010"/><rect x="467.9" y="218.6" width="0.8" height="0.8" fill="#ff1010"/><rect x="441.1" y="254.0" width="0.8" height="0.8" fill="#f2786a"/><rect x="428.0" y="245.0" width="0.8" height="0.8" fill="#f2786a"/><rect x="440.2" y="254.9" width="0.8" height="0.8" fill="#f2786a"/><rect x="442.3" y="244.4" width="0.8" height="0.8" fill="#f2786a"/><rect x="436.3" y="255.8" width="0.8" height="0.8" fill="#f2786a"/><rect x="426.8" y="247.4" width="0.8" height="0.8" fill="#f2786a"/><rect x="434.6" y="255.3" width="0.8" height="0.8" fill="#f2786a"/><rect x="428.7" y="251.9" width="0.8" height="0.8" fill="#f2786a"/><rect x="443.2" y="252.7" width="0.8" height="0.8" fill="#f2786a"/><rect x="443.5" y="243.7" width="0.8" height="0.8" fill="#f2786a"/><rect x="464.6" y="267.8" width="0.8" height="0.8" fill="#1fb3ec"/><rect x="464.5" y="268.0" width="0.8" height="0.8" fill="#1fb3ec"/><rect x="431.7" y="271.2" width="0.8" height="0.8" fill="#1fb3ec"/><rect x="425.5" y="262.3" width="0.8" height="0.8" fill="#1fb3ec"/><rect x="454.6" y="272.5" width="0.8" height="0.8" fill="#1fb3ec"/><rect x="439.0" y="274.0" width="0.8" height="0.8" fill="#1fb3ec"/><rect x="446.8" y="273.8" width="0.8" height="0.8" fill="#1fb3ec"/><rect x="439.0" y="253.0" width="0.8" height="0.8" fill="#1fb3ec"/><rect x="426.0" y="265.8" width="0.8" height="0.8" fill="#1fb3ec"/><rect x="458.7" y="271.9" width="0.8" height="0.8" fill="#1fb3ec"/><rect x="452.8" y="272.5" width="0.8" height="0.8" fill="#1fb3ec"/><rect x="424.9" y="255.2" width="0.8" height="0.8" fill="#1fb3ec"/><rect x="467.9" y="258.0" width="0.8" height="0.8" fill="#1fb3ec"/><rect x="428.2" y="270.5" width="0.8" height="0.8" fill="#1fb3ec"/><rect x="426.5" y="267.5" width="0.8" height="0.8" fill="#1fb3ec"/><rect x="435.6" y="273.5" width="0.8" height="0.8" fill="#1fb3ec"/><rect x="424.9" y="263.6" width="0.8" height="0.8" fill="#1fb3ec"/><rect x="460.6" y="245.5" width="0.8" height="0.8" fill="#1fb3ec"/><rect x="466.3" y="267.8" width="0.8" height="0.8" fill="#1fb3ec"/><rect x="465.7" y="250.4" width="0.8" height="0.8" fill="#1fb3ec"/><rect x="445.0" y="249.5" width="0.8" height="0.8" fill="#1fb3ec"/><rect x="428.1" y="268.5" width="0.8" height="0.8" fill="#1fb3ec"/><rect x="468.7" y="254.8" width="0.8" height="0.8" fill="#1fb3ec"/><rect x="466.4" y="267.3" width="0.8" height="0.8" fill="#1fb3ec"/><rect x="444.7" y="273.0" width="0.8" height="0.8" fill="#1fb3ec"/><rect x="452.8" y="273.2" width="0.8" height="0.8" fill="#1fb3ec"/><rect x="435.6" y="254.1" width="0.8" height="0.8" fill="#1fb3ec"/><rect x="457.9" y="272.7" width="0.8" height="0.8" fill="#1fb3ec"/><rect x="445.7" y="248.3" width="0.8" height="0.8" fill="#1fb3ec"/><rect x="454.4" y="243.4" width="0.8" height="0.8" fill="#1fb3ec"/><rect x="434.1" y="272.5" width="0.8" height="0.8" fill="#1fb3ec"/><rect x="462.8" y="271.1" width="0.8" height="0.8" fill="#1fb3ec"/><rect x="430.7" y="270.5" width="0.8" height="0.8" fill="#1fb3ec"/><rect x="464.9" y="249.9" width="0.8" height="0.8" fill="#1fb3ec"/><rect x="456.4" y="244.7" width="0.8" height="0.8" fill="#1fb3ec"/></g>
<line x1="508" y1="191.7" x2="508" y2="276.6" stroke="#000" stroke-width="0.9" />
<line x1="508" y1="276.6" x2="593.5" y2="276.6" stroke="#000" stroke-width="0.9" />
<line x1="506" y1="210.2" x2="508" y2="210.2" stroke="#000" stroke-width="0.9" />
<text x="504.8" y="212.39999999999998" font-size="6.2" text-anchor="end" fill="#222" >5</text>
<line x1="506" y1="234.1" x2="508" y2="234.1" stroke="#000" stroke-width="0.9" />
<text x="504.8" y="236.29999999999998" font-size="6.2" text-anchor="end" fill="#222" >0</text>
<line x1="506" y1="257.5" x2="508" y2="257.5" stroke="#000" stroke-width="0.9" />
<text x="504.8" y="259.7" font-size="6.2" text-anchor="end" fill="#222" >-5</text>
<line x1="525.3" y1="276.6" x2="525.3" y2="278.6" stroke="#000" stroke-width="0.9" />
<text x="525.3" y="286.4" font-size="6.3" text-anchor="middle" fill="#222" >-4</text>
<line x1="549.9" y1="276.6" x2="549.9" y2="278.6" stroke="#000" stroke-width="0.9" />
<text x="549.9" y="286.4" font-size="6.3" text-anchor="middle" fill="#222" >0</text>
<line x1="575.1" y1="276.6" x2="575.1" y2="278.6" stroke="#000" stroke-width="0.9" />
<text x="575.1" y="286.4" font-size="6.3" text-anchor="middle" fill="#222" >4</text>
<text x="551.3" y="187.6" font-size="9.3" text-anchor="middle" fill="#000" >Sitagliptin</text>
<g transform="translate(104,0)">
<path d="M444.00,230.00 C445.33,228.00 448.00,228.17 450.00,228.00 C452.00,227.83 454.33,228.00 456.00,229.00 C457.67,230.00 458.83,232.50 460.00,234.00 C461.17,235.50 461.83,237.00 463.00,238.00 C464.17,239.00 466.00,238.50 467.00,240.00 C468.00,241.50 469.00,245.17 469.00,247.00 C469.00,248.83 468.17,250.50 467.00,251.00 C465.83,251.50 464.00,250.50 462.00,250.00 C460.00,249.50 457.50,248.67 455.00,248.00 C452.50,247.33 449.17,247.33 447.00,246.00 C444.83,244.67 442.50,242.67 442.00,240.00 C441.50,237.33 442.67,232.00 444.00,230.00 Z" fill="#d6d6d6" fill-opacity="0.35" stroke="none"/>
<path d="M461.50,238.00 C461.92,236.58 463.08,236.17 464.00,236.50 C464.92,236.83 466.17,238.42 467.00,240.00 C467.83,241.58 468.83,244.17 469.00,246.00 C469.17,247.83 468.83,250.25 468.00,251.00 C467.17,251.75 465.08,251.50 464.00,250.50 C462.92,249.50 461.92,247.08 461.50,245.00 C461.08,242.92 461.08,239.42 461.50,238.00 Z" fill="#d6d6d6" fill-opacity="0.9" stroke="none"/>
<path d="M447.60,213.40 C449.98,212.53 456.52,212.92 458.30,214.25 C460.08,215.58 458.75,219.18 458.30,221.40 C457.85,223.62 456.78,225.97 455.60,227.60 C454.42,229.23 452.83,230.63 451.20,231.20 C449.57,231.77 447.50,231.53 445.80,231.00 C444.10,230.47 441.88,229.33 441.00,228.00 C440.12,226.67 440.00,224.42 440.50,223.00 C441.00,221.58 442.82,221.10 444.00,219.50 C445.18,217.90 445.22,214.28 447.60,213.40 Z" fill="#95eeb5" fill-opacity="0.8" stroke="none"/>
<path d="M460.10,213.40 C461.29,211.92 465.60,212.07 467.25,212.50 C468.90,212.93 470.00,214.52 470.00,216.00 C470.00,217.48 467.85,219.47 467.25,221.40 C466.65,223.33 466.69,225.07 466.40,227.60 C466.11,230.13 466.10,234.95 465.50,236.60 C464.90,238.25 463.55,238.55 462.80,237.50 C462.05,236.45 461.45,232.98 461.00,230.30 C460.55,227.62 460.25,224.22 460.10,221.40 C459.95,218.58 458.91,214.88 460.10,213.40 Z" fill="#95eeb5" fill-opacity="0.8" stroke="none"/>
<path d="M422.00,219.00 C422.83,217.83 425.17,217.67 427.00,218.00 C428.83,218.33 431.50,219.67 433.00,221.00 C434.50,222.33 436.00,224.67 436.00,226.00 C436.00,227.33 434.67,228.50 433.00,229.00 C431.33,229.50 427.83,229.67 426.00,229.00 C424.17,228.33 422.67,226.67 422.00,225.00 C421.33,223.33 421.17,220.17 422.00,219.00 Z" fill="#5db82a" fill-opacity="0.55" stroke="none"/>
<path d="M407.75,236.00 C407.75,234.58 409.62,233.50 411.50,232.50 C413.38,231.50 416.08,230.62 419.00,230.00 C421.92,229.38 425.67,228.58 429.00,228.75 C432.33,228.92 436.92,230.04 439.00,231.00 C441.08,231.96 441.92,233.29 441.50,234.50 C441.08,235.71 438.17,237.21 436.50,238.25 C434.83,239.29 433.38,239.54 431.50,240.75 C429.62,241.96 427.33,244.71 425.25,245.50 C423.17,246.29 421.29,246.25 419.00,245.50 C416.71,244.75 413.38,242.58 411.50,241.00 C409.62,239.42 407.75,237.42 407.75,236.00 Z" fill="#5db82a" fill-opacity="1.0" stroke="none"/>
<path d="M413.40,195.60 C414.07,194.87 415.98,195.00 417.75,195.00 C419.52,195.00 422.12,195.08 424.00,195.60 C425.88,196.12 427.33,196.95 429.00,198.10 C430.67,199.25 432.71,201.14 434.00,202.50 C435.29,203.86 436.23,204.79 436.75,206.25 C437.27,207.71 437.35,209.58 437.10,211.25 C436.85,212.92 436.28,215.04 435.25,216.25 C434.22,217.46 432.46,218.04 430.90,218.50 C429.34,218.96 427.47,219.27 425.90,219.00 C424.33,218.73 422.55,217.78 421.50,216.90 C420.45,216.03 420.12,215.11 419.60,213.75 C419.08,212.39 419.02,210.42 418.40,208.75 C417.78,207.08 416.67,205.31 415.90,203.75 C415.12,202.19 414.17,200.76 413.75,199.40 C413.33,198.04 412.73,196.33 413.40,195.60 Z" fill="#e8b22a" fill-opacity="1.0" stroke="none"/>
<path d="M434.00,207.50 C435.14,206.36 438.38,206.15 440.25,206.25 C442.12,206.35 444.00,207.16 445.25,208.10 C446.50,209.04 447.54,210.65 447.75,211.90 C447.96,213.15 447.33,214.67 446.50,215.60 C445.67,216.53 443.58,216.56 442.75,217.50 C441.92,218.44 442.02,221.04 441.50,221.25 C440.98,221.46 440.64,219.47 439.60,218.75 C438.56,218.03 436.28,217.84 435.25,216.90 C434.22,215.96 433.61,214.67 433.40,213.10 C433.19,211.53 432.86,208.64 434.00,207.50 Z" fill="#a48cf0" fill-opacity="1.0" stroke="none"/>
<path d="M443.75,202.50 C444.58,201.77 447.29,201.02 450.00,200.60 C452.71,200.18 457.33,200.52 460.00,200.00 C462.67,199.48 463.71,197.83 466.00,197.50 C468.29,197.17 472.08,197.17 473.75,198.00 C475.42,198.83 476.00,200.33 476.00,202.50 C476.00,204.67 474.96,209.25 473.75,211.00 C472.54,212.75 470.88,212.54 468.75,213.00 C466.62,213.46 462.88,214.25 461.00,213.75 C459.12,213.25 459.33,211.04 457.50,210.00 C455.67,208.96 452.08,208.33 450.00,207.50 C447.92,206.67 446.04,205.83 445.00,205.00 C443.96,204.17 442.92,203.23 443.75,202.50 Z" fill="#dd18dd" fill-opacity="1.0" stroke="none"/>
<path d="M466.00,221.00 C466.58,219.75 469.08,217.88 471.00,217.50 C472.92,217.12 475.58,217.92 477.50,218.75 C479.42,219.58 481.15,221.29 482.50,222.50 C483.85,223.71 485.39,224.75 485.60,226.00 C485.81,227.25 485.10,229.23 483.75,230.00 C482.40,230.77 479.38,230.81 477.50,230.60 C475.62,230.39 474.17,229.68 472.50,228.75 C470.83,227.82 468.58,226.29 467.50,225.00 C466.42,223.71 465.42,222.25 466.00,221.00 Z" fill="#ff1010" fill-opacity="1.0" stroke="none"/>
<path d="M428.40,243.50 C429.44,242.04 432.23,240.58 434.00,239.75 C435.77,238.92 437.75,237.88 439.00,238.50 C440.25,239.12 440.46,241.62 441.50,243.50 C442.54,245.38 445.25,248.08 445.25,249.75 C445.25,251.42 443.17,252.71 441.50,253.50 C439.83,254.29 437.33,254.71 435.25,254.50 C433.17,254.29 430.25,253.25 429.00,252.25 C427.75,251.25 427.85,249.96 427.75,248.50 C427.65,247.04 427.36,244.96 428.40,243.50 Z" fill="#f2786a" fill-opacity="1.0" stroke="none"/>
<path d="M426.00,252.00 C426.83,250.50 429.25,252.58 431.00,253.00 C432.75,253.42 434.83,254.58 436.50,254.50 C438.17,254.42 439.58,253.17 441.00,252.50 C442.42,251.83 443.50,251.58 445.00,250.50 C446.50,249.42 448.50,247.00 450.00,246.00 C451.50,245.00 451.92,244.33 454.00,244.50 C456.08,244.67 460.33,245.29 462.50,247.00 C464.67,248.71 466.38,251.58 467.00,254.75 C467.62,257.92 467.21,263.29 466.25,266.00 C465.29,268.71 463.96,269.85 461.25,271.00 C458.54,272.15 454.21,272.65 450.00,272.90 C445.79,273.15 439.50,273.07 436.00,272.50 C432.50,271.93 430.67,271.25 429.00,269.50 C427.33,267.75 426.50,264.92 426.00,262.00 C425.50,259.08 425.17,253.50 426.00,252.00 Z" fill="#1fb3ec" fill-opacity="1.0" stroke="none"/>
</g>
<g opacity="0.8"><rect x="565.1" y="247.5" width="0.8" height="0.8" fill="#d6d6d6"/><rect x="572.6" y="250.2" width="0.8" height="0.8" fill="#d6d6d6"/><rect x="565.8" y="236.6" width="0.8" height="0.8" fill="#d6d6d6"/><rect x="566.5" y="249.4" width="0.8" height="0.8" fill="#d6d6d6"/><rect x="571.3" y="238.2" width="0.8" height="0.8" fill="#d6d6d6"/><rect x="564.0" y="245.5" width="0.8" height="0.8" fill="#d6d6d6"/><rect x="573.2" y="247.6" width="0.8" height="0.8" fill="#d6d6d6"/><rect x="566.8" y="236.9" width="0.8" height="0.8" fill="#d6d6d6"/><rect x="551.2" y="231.7" width="0.8" height="0.8" fill="#95eeb5"/><rect x="547.8" y="218.8" width="0.8" height="0.8" fill="#95eeb5"/><rect x="552.0" y="232.5" width="0.8" height="0.8" fill="#95eeb5"/><rect x="543.8" y="222.7" width="0.8" height="0.8" fill="#95eeb5"/><rect x="554.0" y="213.1" width="0.8" height="0.8" fill="#95eeb5"/><rect x="554.3" y="231.3" width="0.8" height="0.8" fill="#95eeb5"/><rect x="563.0" y="217.8" width="0.8" height="0.8" fill="#95eeb5"/><rect x="563.1" y="222.6" width="0.8" height="0.8" fill="#95eeb5"/><rect x="548.9" y="216.8" width="0.8" height="0.8" fill="#95eeb5"/><rect x="549.3" y="216.8" width="0.8" height="0.8" fill="#95eeb5"/><rect x="553.3" y="232.1" width="0.8" height="0.8" fill="#95eeb5"/><rect x="564.4" y="227.2" width="0.8" height="0.8" fill="#95eeb5"/><rect x="566.9" y="237.8" width="0.8" height="0.8" fill="#95eeb5"/><rect x="571.0" y="225.7" width="0.8" height="0.8" fill="#95eeb5"/><rect x="563.8" y="221.4" width="0.8" height="0.8" fill="#95eeb5"/><rect x="569.7" y="235.9" width="0.8" height="0.8" fill="#95eeb5"/><rect x="570.4" y="228.0" width="0.8" height="0.8" fill="#95eeb5"/><rect x="567.0" y="239.1" width="0.8" height="0.8" fill="#95eeb5"/><rect x="570.5" y="212.0" width="0.8" height="0.8" fill="#95eeb5"/><rect x="564.1" y="215.2" width="0.8" height="0.8" fill="#95eeb5"/><rect x="563.8" y="215.6" width="0.8" height="0.8" fill="#95eeb5"/><rect x="570.2" y="233.8" width="0.8" height="0.8" fill="#95eeb5"/><rect x="572.2" y="220.0" width="0.8" height="0.8" fill="#95eeb5"/><rect x="534.4" y="230.0" width="0.8" height="0.8" fill="#5db82a"/><rect x="528.6" y="216.9" width="0.8" height="0.8" fill="#5db82a"/><rect x="529.7" y="229.2" width="0.8" height="0.8" fill="#5db82a"/><rect x="538.5" y="220.6" width="0.8" height="0.8" fill="#5db82a"/><rect x="534.8" y="230.1" width="0.8" height="0.8" fill="#5db82a"/><rect x="532.9" y="229.9" width="0.8" height="0.8" fill="#5db82a"/><rect x="536.8" y="219.4" width="0.8" height="0.8" fill="#5db82a"/><rect x="529.6" y="228.8" width="0.8" height="0.8" fill="#5db82a"/><rect x="531.3" y="217.2" width="0.8" height="0.8" fill="#5db82a"/><rect x="527.0" y="226.4" width="0.8" height="0.8" fill="#5db82a"/><rect x="525.8" y="220.1" width="0.8" height="0.8" fill="#5db82a"/><rect x="530.8" y="230.0" width="0.8" height="0.8" fill="#5db82a"/><rect x="532.2" y="218.1" width="0.8" height="0.8" fill="#5db82a"/><rect x="536.6" y="220.0" width="0.8" height="0.8" fill="#5db82a"/><rect x="540.0" y="224.7" width="0.8" height="0.8" fill="#5db82a"/><rect x="524.5" y="228.9" width="0.8" height="0.8" fill="#5db82a"/><rect x="514.7" y="241.6" width="0.8" height="0.8" fill="#5db82a"/><rect x="514.9" y="232.7" width="0.8" height="0.8" fill="#5db82a"/><rect x="516.0" y="231.2" width="0.8" height="0.8" fill="#5db82a"/><rect x="541.3" y="238.6" width="0.8" height="0.8" fill="#5db82a"/><rect x="537.9" y="228.9" width="0.8" height="0.8" fill="#5db82a"/><rect x="545.3" y="235.7" width="0.8" height="0.8" fill="#5db82a"/><rect x="512.2" y="234.4" width="0.8" height="0.8" fill="#5db82a"/><rect x="521.5" y="229.9" width="0.8" height="0.8" fill="#5db82a"/><rect x="536.3" y="240.7" width="0.8" height="0.8" fill="#5db82a"/><rect x="521.1" y="245.0" width="0.8" height="0.8" fill="#5db82a"/><rect x="514.2" y="233.0" width="0.8" height="0.8" fill="#5db82a"/><rect x="526.7" y="229.4" width="0.8" height="0.8" fill="#5db82a"/><rect x="519.1" y="230.0" width="0.8" height="0.8" fill="#5db82a"/><rect x="516.2" y="243.0" width="0.8" height="0.8" fill="#5db82a"/><rect x="531.6" y="228.8" width="0.8" height="0.8" fill="#5db82a"/><rect x="526.5" y="246.7" width="0.8" height="0.8" fill="#5db82a"/><rect x="543.7" y="230.5" width="0.8" height="0.8" fill="#5db82a"/><rect x="541.8" y="210.4" width="0.8" height="0.8" fill="#e8b22a"/><rect x="541.5" y="206.6" width="0.8" height="0.8" fill="#e8b22a"/><rect x="525.3" y="217.7" width="0.8" height="0.8" fill="#e8b22a"/><rect x="516.8" y="198.6" width="0.8" height="0.8" fill="#e8b22a"/><rect x="522.2" y="209.1" width="0.8" height="0.8" fill="#e8b22a"/><rect x="531.8" y="195.7" width="0.8" height="0.8" fill="#e8b22a"/><rect x="527.0" y="195.5" width="0.8" height="0.8" fill="#e8b22a"/><rect x="541.7" y="208.9" width="0.8" height="0.8" fill="#e8b22a"/><rect x="540.6" y="217.3" width="0.8" height="0.8" fill="#e8b22a"/><rect x="519.4" y="203.7" width="0.8" height="0.8" fill="#e8b22a"/><rect x="535.8" y="219.4" width="0.8" height="0.8" fill="#e8b22a"/><rect x="532.2" y="196.2" width="0.8" height="0.8" fill="#e8b22a"/><rect x="519.1" y="194.0" width="0.8" height="0.8" fill="#e8b22a"/><rect x="521.0" y="208.6" width="0.8" height="0.8" fill="#e8b22a"/><rect x="518.1" y="202.5" width="0.8" height="0.8" fill="#e8b22a"/><rect x="525.0" y="194.0" width="0.8" height="0.8" fill="#e8b22a"/><rect x="517.3" y="197.4" width="0.8" height="0.8" fill="#e8b22a"/><rect x="530.2" y="219.6" width="0.8" height="0.8" fill="#e8b22a"/><rect x="537.3" y="217.3" width="0.8" height="0.8" fill="#e8b22a"/><rect x="541.2" y="212.1" width="0.8" height="0.8" fill="#e8b22a"/><rect x="531.6" y="220.5" width="0.8" height="0.8" fill="#e8b22a"/><rect x="546.4" y="220.5" width="0.8" height="0.8" fill="#a48cf0"/><rect x="546.4" y="205.9" width="0.8" height="0.8" fill="#a48cf0"/><rect x="551.3" y="216.3" width="0.8" height="0.8" fill="#a48cf0"/><rect x="541.5" y="218.4" width="0.8" height="0.8" fill="#a48cf0"/><rect x="536.6" y="212.2" width="0.8" height="0.8" fill="#a48cf0"/><rect x="543.9" y="204.7" width="0.8" height="0.8" fill="#a48cf0"/><rect x="552.2" y="214.9" width="0.8" height="0.8" fill="#a48cf0"/><rect x="541.5" y="206.2" width="0.8" height="0.8" fill="#a48cf0"/><rect x="538.4" y="207.1" width="0.8" height="0.8" fill="#a48cf0"/><rect x="545.0" y="221.9" width="0.8" height="0.8" fill="#a48cf0"/><rect x="536.7" y="213.8" width="0.8" height="0.8" fill="#a48cf0"/><rect x="552.4" y="211.2" width="0.8" height="0.8" fill="#a48cf0"/><rect x="579.8" y="208.3" width="0.8" height="0.8" fill="#dd18dd"/><rect x="554.3" y="200.0" width="0.8" height="0.8" fill="#dd18dd"/><rect x="563.4" y="213.4" width="0.8" height="0.8" fill="#dd18dd"/><rect x="571.6" y="213.2" width="0.8" height="0.8" fill="#dd18dd"/><rect x="570.7" y="196.8" width="0.8" height="0.8" fill="#dd18dd"/><rect x="563.9" y="198.2" width="0.8" height="0.8" fill="#dd18dd"/><rect x="555.7" y="199.5" width="0.8" height="0.8" fill="#dd18dd"/><rect x="560.7" y="198.8" width="0.8" height="0.8" fill="#dd18dd"/><rect x="567.7" y="214.1" width="0.8" height="0.8" fill="#dd18dd"/><rect x="555.1" y="208.0" width="0.8" height="0.8" fill="#dd18dd"/><rect x="554.4" y="208.3" width="0.8" height="0.8" fill="#dd18dd"/><rect x="554.0" y="208.0" width="0.8" height="0.8" fill="#dd18dd"/><rect x="579.2" y="206.4" width="0.8" height="0.8" fill="#dd18dd"/><rect x="575.6" y="213.5" width="0.8" height="0.8" fill="#dd18dd"/><rect x="577.0" y="196.9" width="0.8" height="0.8" fill="#dd18dd"/><rect x="551.5" y="200.9" width="0.8" height="0.8" fill="#dd18dd"/><rect x="553.2" y="207.2" width="0.8" height="0.8" fill="#dd18dd"/><rect x="576.9" y="216.8" width="0.8" height="0.8" fill="#ff1010"/><rect x="584.7" y="220.9" width="0.8" height="0.8" fill="#ff1010"/><rect x="587.0" y="221.8" width="0.8" height="0.8" fill="#ff1010"/><rect x="590.7" y="227.6" width="0.8" height="0.8" fill="#ff1010"/><rect x="575.9" y="217.2" width="0.8" height="0.8" fill="#ff1010"/><rect x="589.1" y="228.4" width="0.8" height="0.8" fill="#ff1010"/><rect x="587.7" y="222.8" width="0.8" height="0.8" fill="#ff1010"/><rect x="579.2" y="230.6" width="0.8" height="0.8" fill="#ff1010"/><rect x="577.6" y="216.7" width="0.8" height="0.8" fill="#ff1010"/><rect x="571.0" y="219.6" width="0.8" height="0.8" fill="#ff1010"/><rect x="569.5" y="221.0" width="0.8" height="0.8" fill="#ff1010"/><rect x="588.3" y="229.1" width="0.8" height="0.8" fill="#ff1010"/><rect x="573.0" y="216.9" width="0.8" height="0.8" fill="#ff1010"/><rect x="589.5" y="225.1" width="0.8" height="0.8" fill="#ff1010"/><rect x="569.5" y="221.2" width="0.8" height="0.8" fill="#ff1010"/><rect x="574.6" y="229.0" width="0.8" height="0.8" fill="#ff1010"/><rect x="578.8" y="231.3" width="0.8" height="0.8" fill="#ff1010"/><rect x="578.6" y="230.4" width="0.8" height="0.8" fill="#ff1010"/><rect x="531.2" y="245.3" width="0.8" height="0.8" fill="#f2786a"/><rect x="543.4" y="237.8" width="0.8" height="0.8" fill="#f2786a"/><rect x="549.4" y="247.7" width="0.8" height="0.8" fill="#f2786a"/><rect x="536.2" y="240.9" width="0.8" height="0.8" fill="#f2786a"/><rect x="535.4" y="254.5" width="0.8" height="0.8" fill="#f2786a"/><rect x="544.4" y="239.8" width="0.8" height="0.8" fill="#f2786a"/><rect x="531.2" y="250.4" width="0.8" height="0.8" fill="#f2786a"/><rect x="531.9" y="245.9" width="0.8" height="0.8" fill="#f2786a"/><rect x="544.2" y="239.0" width="0.8" height="0.8" fill="#f2786a"/><rect x="535.7" y="254.2" width="0.8" height="0.8" fill="#f2786a"/><rect x="537.2" y="255.2" width="0.8" height="0.8" fill="#f2786a"/><rect x="543.8" y="237.8" width="0.8" height="0.8" fill="#f2786a"/><rect x="541.7" y="238.7" width="0.8" height="0.8" fill="#f2786a"/><rect x="530.7" y="246.8" width="0.8" height="0.8" fill="#f2786a"/><rect x="532.0" y="249.4" width="0.8" height="0.8" fill="#f2786a"/><rect x="543.9" y="240.0" width="0.8" height="0.8" fill="#f2786a"/><rect x="548.3" y="246.2" width="0.8" height="0.8" fill="#f2786a"/><rect x="529.6" y="255.4" width="0.8" height="0.8" fill="#1fb3ec"/><rect x="559.9" y="244.9" width="0.8" height="0.8" fill="#1fb3ec"/><rect x="543.0" y="273.9" width="0.8" height="0.8" fill="#1fb3ec"/><rect x="562.9" y="271.7" width="0.8" height="0.8" fill="#1fb3ec"/><rect x="571.3" y="264.3" width="0.8" height="0.8" fill="#1fb3ec"/><rect x="571.0" y="259.8" width="0.8" height="0.8" fill="#1fb3ec"/><rect x="548.6" y="250.5" width="0.8" height="0.8" fill="#1fb3ec"/><rect x="528.4" y="258.5" width="0.8" height="0.8" fill="#1fb3ec"/><rect x="570.9" y="254.4" width="0.8" height="0.8" fill="#1fb3ec"/><rect x="570.8" y="259.0" width="0.8" height="0.8" fill="#1fb3ec"/><rect x="539.4" y="254.1" width="0.8" height="0.8" fill="#1fb3ec"/><rect x="548.0" y="273.3" width="0.8" height="0.8" fill="#1fb3ec"/><rect x="544.4" y="273.9" width="0.8" height="0.8" fill="#1fb3ec"/><rect x="561.6" y="244.1" width="0.8" height="0.8" fill="#1fb3ec"/><rect x="571.8" y="263.5" width="0.8" height="0.8" fill="#1fb3ec"/><rect x="545.2" y="273.5" width="0.8" height="0.8" fill="#1fb3ec"/><rect x="567.3" y="248.1" width="0.8" height="0.8" fill="#1fb3ec"/><rect x="537.3" y="271.7" width="0.8" height="0.8" fill="#1fb3ec"/><rect x="562.6" y="244.3" width="0.8" height="0.8" fill="#1fb3ec"/><rect x="544.0" y="272.7" width="0.8" height="0.8" fill="#1fb3ec"/><rect x="557.0" y="273.6" width="0.8" height="0.8" fill="#1fb3ec"/><rect x="570.1" y="266.5" width="0.8" height="0.8" fill="#1fb3ec"/><rect x="558.3" y="273.8" width="0.8" height="0.8" fill="#1fb3ec"/><rect x="529.5" y="259.0" width="0.8" height="0.8" fill="#1fb3ec"/><rect x="571.1" y="253.4" width="0.8" height="0.8" fill="#1fb3ec"/><rect x="571.6" y="266.6" width="0.8" height="0.8" fill="#1fb3ec"/><rect x="540.0" y="254.2" width="0.8" height="0.8" fill="#1fb3ec"/><rect x="549.2" y="274.3" width="0.8" height="0.8" fill="#1fb3ec"/><rect x="568.8" y="268.1" width="0.8" height="0.8" fill="#1fb3ec"/></g>
<circle cx="611.2" cy="195.6" r="4.0" fill="#e8b22a" stroke="none" stroke-width="0"/>
<text x="625.2" y="197.9" font-size="7.0" text-anchor="start" fill="#222" >CD8_Tex</text>
<circle cx="611.2" cy="205.22" r="4.0" fill="#a48cf0" stroke="none" stroke-width="0"/>
<text x="625.2" y="207.52" font-size="7.0" text-anchor="start" fill="#222" >CD8_Tpex</text>
<circle cx="611.2" cy="214.84" r="4.0" fill="#5db82a" stroke="none" stroke-width="0"/>
<text x="625.2" y="217.14000000000001" font-size="7.0" text-anchor="start" fill="#222" >CD8_EffectorMemory</text>
<circle cx="611.2" cy="224.45999999999998" r="4.0" fill="#f2786a" stroke="none" stroke-width="0"/>
<text x="625.2" y="226.76" font-size="7.0" text-anchor="start" fill="#222" >CD8_EarlyActiv</text>
<circle cx="611.2" cy="234.07999999999998" r="4.0" fill="#1fb3ec" stroke="none" stroke-width="0"/>
<text x="625.2" y="236.38" font-size="7.0" text-anchor="start" fill="#222" >CD8_NaiveLike</text>
<circle cx="611.2" cy="243.7" r="4.0" fill="#d6d6d6" stroke="none" stroke-width="0"/>
<text x="625.2" y="246.0" font-size="7.0" text-anchor="start" fill="#222" >CD4_NaiveLike</text>
<circle cx="611.2" cy="253.32" r="4.0" fill="#ff1010" stroke="none" stroke-width="0"/>
<text x="625.2" y="255.62" font-size="7.0" text-anchor="start" fill="#222" >Tfh</text>
<circle cx="611.2" cy="262.94" r="4.0" fill="#95eeb5" stroke="none" stroke-width="0"/>
<text x="625.2" y="265.24" font-size="7.0" text-anchor="start" fill="#222" >Th1</text>
<circle cx="611.2" cy="272.56" r="4.0" fill="#dd18dd" stroke="none" stroke-width="0"/>
<text x="625.2" y="274.86" font-size="7.0" text-anchor="start" fill="#222" >Treg</text>
<text x="362.4" y="183.7" font-size="16" text-anchor="start" fill="#000" >G</text>
<path d="M376.75,266 V301.25 H412" fill="none" stroke="#333" stroke-width="0.9"/>
<polygon points="376.75,261 373.4,267.2 380.1,267.2" fill="#000"/>
<polygon points="417.9,301.25 411.6,298 411.6,304.5" fill="#000"/>
<text x="380" y="236" font-size="10" text-anchor="middle" fill="#000" transform="rotate(-90 380 236)" >UMAP_2</text>
<text x="422.6" y="304.6" font-size="10" text-anchor="start" fill="#000" >UMAP_1</text>
<ellipse cx="424" cy="199.5" rx="11" ry="4.8" transform="rotate(24 424 199.5)" fill="none" stroke="#7a7a7a" stroke-width="0.55" stroke-opacity="1"/>
<ellipse cx="424" cy="199.5" rx="9.5" ry="4.0" transform="rotate(24 424 199.5)" fill="none" stroke="#7a7a7a" stroke-width="0.55" stroke-opacity="1"/>
<ellipse cx="424" cy="199.5" rx="8" ry="3.3" transform="rotate(24 424 199.5)" fill="none" stroke="#7a7a7a" stroke-width="0.55" stroke-opacity="1"/>
<ellipse cx="424" cy="199.5" rx="6.5" ry="2.6" transform="rotate(24 424 199.5)" fill="none" stroke="#7a7a7a" stroke-width="0.55" stroke-opacity="1"/>
<ellipse cx="424" cy="199.5" rx="5" ry="1.9" transform="rotate(24 424 199.5)" fill="none" stroke="#7a7a7a" stroke-width="0.55" stroke-opacity="1"/>
<ellipse cx="424" cy="199.5" rx="3.5" ry="1.2" transform="rotate(24 424 199.5)" fill="none" stroke="#7a7a7a" stroke-width="0.55" stroke-opacity="1"/>
<ellipse cx="428" cy="210" rx="7" ry="4.5" transform="rotate(50 428 210)" fill="none" stroke="#5a4a20" stroke-width="0.5" stroke-opacity="0.8"/>
<ellipse cx="428" cy="210" rx="5" ry="3.2" transform="rotate(50 428 210)" fill="none" stroke="#5a4a20" stroke-width="0.5" stroke-opacity="0.8"/>
<ellipse cx="428" cy="210" rx="3" ry="1.9" transform="rotate(50 428 210)" fill="none" stroke="#5a4a20" stroke-width="0.5" stroke-opacity="0.8"/>
<ellipse cx="441.5" cy="212" rx="7" ry="4.8" transform="rotate(10 441.5 212)" fill="none" stroke="#5a4a8a" stroke-width="0.6" stroke-opacity="1"/>
<ellipse cx="441.5" cy="212" rx="5.5" ry="3.7" transform="rotate(10 441.5 212)" fill="none" stroke="#5a4a8a" stroke-width="0.6" stroke-opacity="1"/>
<ellipse cx="441.5" cy="212" rx="4" ry="2.6" transform="rotate(10 441.5 212)" fill="none" stroke="#5a4a8a" stroke-width="0.6" stroke-opacity="1"/>
<ellipse cx="441.5" cy="212" rx="2.5" ry="1.5" transform="rotate(10 441.5 212)" fill="none" stroke="#5a4a8a" stroke-width="0.6" stroke-opacity="1"/>
<ellipse cx="464.5" cy="206" rx="6" ry="3.8" transform="rotate(0 464.5 206)" fill="none" stroke="#6a2a6a" stroke-width="0.6" stroke-opacity="1"/>
<ellipse cx="464.5" cy="206" rx="4" ry="2.5" transform="rotate(0 464.5 206)" fill="none" stroke="#6a2a6a" stroke-width="0.6" stroke-opacity="1"/>
<ellipse cx="464.5" cy="206" rx="2" ry="1.2" transform="rotate(0 464.5 206)" fill="none" stroke="#6a2a6a" stroke-width="0.6" stroke-opacity="1"/>
<ellipse cx="429.5" cy="243.5" rx="5" ry="3.7" transform="rotate(0 429.5 243.5)" fill="none" stroke="#333" stroke-width="0.7" stroke-opacity="1"/>
<ellipse cx="424" cy="228" rx="3.2" ry="2.8" transform="rotate(0 424 228)" fill="none" stroke="#333" stroke-width="0.6" stroke-opacity="1"/>
<ellipse cx="428" cy="257.5" rx="2.2" ry="2.2" transform="rotate(0 428 257.5)" fill="none" stroke="#333" stroke-width="0.6" stroke-opacity="1"/>
<ellipse cx="434" cy="262.3" rx="1.6" ry="1.2" transform="rotate(0 434 262.3)" fill="none" stroke="#333" stroke-width="0.6" stroke-opacity="1"/>
<ellipse cx="452.5" cy="247.3" rx="1.6" ry="1.0" transform="rotate(-20 452.5 247.3)" fill="none" stroke="#335" stroke-width="0.8" stroke-opacity="1"/>
<path d="M517.00,194.00 C518.67,192.33 523.67,193.17 527.00,194.00 C530.33,194.83 533.67,197.33 537.00,199.00 C540.33,200.67 544.17,202.17 547.00,204.00 C549.83,205.83 551.83,208.00 554.00,210.00 C556.17,212.00 559.33,214.00 560.00,216.00 C560.67,218.00 559.67,221.00 558.00,222.00 C556.33,223.00 552.67,222.33 550.00,222.00 C547.33,221.67 544.50,220.00 542.00,220.00 C539.50,220.00 537.50,221.67 535.00,222.00 C532.50,222.33 529.33,223.33 527.00,222.00 C524.67,220.67 522.67,217.00 521.00,214.00 C519.33,211.00 517.67,207.33 517.00,204.00 C516.33,200.67 515.33,195.67 517.00,194.00 Z" fill="none" stroke="#6a6a6a" stroke-width="0.55" stroke-opacity="1"/>
<path d="M519.04,195.80 C520.51,194.33 524.91,195.07 527.84,195.80 C530.77,196.53 533.71,198.73 536.64,200.20 C539.57,201.67 542.95,202.99 545.44,204.60 C547.93,206.21 549.69,208.12 551.60,209.88 C553.51,211.64 556.29,213.40 556.88,215.16 C557.47,216.92 556.59,219.56 555.12,220.44 C553.65,221.32 550.43,220.73 548.08,220.44 C545.73,220.15 543.24,218.68 541.04,218.68 C538.84,218.68 537.08,220.15 534.88,220.44 C532.68,220.73 529.89,221.61 527.84,220.44 C525.79,219.27 524.03,216.04 522.56,213.40 C521.09,210.76 519.63,207.53 519.04,204.60 C518.45,201.67 517.57,197.27 519.04,195.80 Z" fill="none" stroke="#6a6a6a" stroke-width="0.55" stroke-opacity="1"/>
<path d="M521.08,197.60 C522.35,196.33 526.15,196.97 528.68,197.60 C531.21,198.23 533.75,200.13 536.28,201.40 C538.81,202.67 541.73,203.81 543.88,205.20 C546.03,206.59 547.55,208.24 549.20,209.76 C550.85,211.28 553.25,212.80 553.76,214.32 C554.27,215.84 553.51,218.12 552.24,218.88 C550.97,219.64 548.19,219.13 546.16,218.88 C544.13,218.63 541.98,217.36 540.08,217.36 C538.18,217.36 536.66,218.63 534.76,218.88 C532.86,219.13 530.45,219.89 528.68,218.88 C526.91,217.87 525.39,215.08 524.12,212.80 C522.85,210.52 521.59,207.73 521.08,205.20 C520.57,202.67 519.81,198.87 521.08,197.60 Z" fill="none" stroke="#6a6a6a" stroke-width="0.55" stroke-opacity="1"/>
<path d="M523.12,199.40 C524.19,198.33 527.39,198.87 529.52,199.40 C531.65,199.93 533.79,201.53 535.92,202.60 C538.05,203.67 540.51,204.63 542.32,205.80 C544.13,206.97 545.41,208.36 546.80,209.64 C548.19,210.92 550.21,212.20 550.64,213.48 C551.07,214.76 550.43,216.68 549.36,217.32 C548.29,217.96 545.95,217.53 544.24,217.32 C542.53,217.11 540.72,216.04 539.12,216.04 C537.52,216.04 536.24,217.11 534.64,217.32 C533.04,217.53 531.01,218.17 529.52,217.32 C528.03,216.47 526.75,214.12 525.68,212.20 C524.61,210.28 523.55,207.93 523.12,205.80 C522.69,203.67 522.05,200.47 523.12,199.40 Z" fill="none" stroke="#6a6a6a" stroke-width="0.55" stroke-opacity="1"/>
<path d="M525.16,201.20 C526.03,200.33 528.63,200.77 530.36,201.20 C532.09,201.63 533.83,202.93 535.56,203.80 C537.29,204.67 539.29,205.45 540.76,206.40 C542.23,207.35 543.27,208.48 544.40,209.52 C545.53,210.56 547.17,211.60 547.52,212.64 C547.87,213.68 547.35,215.24 546.48,215.76 C545.61,216.28 543.71,215.93 542.32,215.76 C540.93,215.59 539.46,214.72 538.16,214.72 C536.86,214.72 535.82,215.59 534.52,215.76 C533.22,215.93 531.57,216.45 530.36,215.76 C529.15,215.07 528.11,213.16 527.24,211.60 C526.37,210.04 525.51,208.13 525.16,206.40 C524.81,204.67 524.29,202.07 525.16,201.20 Z" fill="none" stroke="#6a6a6a" stroke-width="0.55" stroke-opacity="1"/>
<path d="M527.20,203.00 C527.87,202.33 529.87,202.67 531.20,203.00 C532.53,203.33 533.87,204.33 535.20,205.00 C536.53,205.67 538.07,206.27 539.20,207.00 C540.33,207.73 541.13,208.60 542.00,209.40 C542.87,210.20 544.13,211.00 544.40,211.80 C544.67,212.60 544.27,213.80 543.60,214.20 C542.93,214.60 541.47,214.33 540.40,214.20 C539.33,214.07 538.20,213.40 537.20,213.40 C536.20,213.40 535.40,214.07 534.40,214.20 C533.40,214.33 532.13,214.73 531.20,214.20 C530.27,213.67 529.47,212.20 528.80,211.00 C528.13,209.80 527.47,208.33 527.20,207.00 C526.93,205.67 526.53,203.67 527.20,203.00 Z" fill="none" stroke="#6a6a6a" stroke-width="0.55" stroke-opacity="1"/>
<path d="M529.24,204.80 C529.71,204.33 531.11,204.57 532.04,204.80 C532.97,205.03 533.91,205.73 534.84,206.20 C535.77,206.67 536.85,207.09 537.64,207.60 C538.43,208.11 538.99,208.72 539.60,209.28 C540.21,209.84 541.09,210.40 541.28,210.96 C541.47,211.52 541.19,212.36 540.72,212.64 C540.25,212.92 539.23,212.73 538.48,212.64 C537.73,212.55 536.94,212.08 536.24,212.08 C535.54,212.08 534.98,212.55 534.28,212.64 C533.58,212.73 532.69,213.01 532.04,212.64 C531.39,212.27 530.83,211.24 530.36,210.40 C529.89,209.56 529.43,208.53 529.24,207.60 C529.05,206.67 528.77,205.27 529.24,204.80 Z" fill="none" stroke="#6a6a6a" stroke-width="0.55" stroke-opacity="1"/>
<path d="M546.00,205.00 C548.17,202.67 552.33,202.67 556.00,202.00 C559.67,201.33 564.33,201.50 568.00,201.00 C571.67,200.50 575.67,198.67 578.00,199.00 C580.33,199.33 582.00,201.17 582.00,203.00 C582.00,204.83 580.00,208.17 578.00,210.00 C576.00,211.83 572.67,212.83 570.00,214.00 C567.33,215.17 564.50,215.83 562.00,217.00 C559.50,218.17 557.33,220.17 555.00,221.00 C552.67,221.83 550.00,222.83 548.00,222.00 C546.00,221.17 543.33,218.83 543.00,216.00 C542.67,213.17 543.83,207.33 546.00,205.00 Z" fill="none" stroke="#555" stroke-width="0.6" stroke-opacity="1"/>
<path d="M549.00,208.00 C550.83,206.50 554.83,206.50 558.00,206.00 C561.17,205.50 565.17,205.33 568.00,205.00 C570.83,204.67 573.67,203.50 575.00,204.00 C576.33,204.50 577.17,206.83 576.00,208.00 C574.83,209.17 570.67,209.83 568.00,211.00 C565.33,212.17 562.50,213.83 560.00,215.00 C557.50,216.17 555.17,218.00 553.00,218.00 C550.83,218.00 547.67,216.67 547.00,215.00 C546.33,213.33 547.17,209.50 549.00,208.00 Z" fill="none" stroke="#555" stroke-width="0.6" stroke-opacity="1"/>
<path d="M524.00,234.00 C525.17,232.83 528.17,231.83 530.00,232.00 C531.83,232.17 534.33,233.67 535.00,235.00 C535.67,236.33 535.17,238.83 534.00,240.00 C532.83,241.17 529.83,242.17 528.00,242.00 C526.17,241.83 523.67,240.33 523.00,239.00 C522.33,237.67 522.83,235.17 524.00,234.00 Z" fill="none" stroke="#333" stroke-width="0.7" stroke-opacity="1"/>
<ellipse cx="568.7" cy="235" rx="2.7" ry="2.5" transform="rotate(0 568.7 235)" fill="none" stroke="#2a6a3a" stroke-width="0.7" stroke-opacity="1"/>
<ellipse cx="571.2" cy="246" rx="3.4" ry="3.1" transform="rotate(0 571.2 246)" fill="none" stroke="#777" stroke-width="0.8" stroke-opacity="1"/>
<path d="M529.00,251.00 C530.17,249.50 534.17,249.67 537.00,250.00 C539.83,250.33 542.83,252.17 546.00,253.00 C549.17,253.83 552.83,254.67 556.00,255.00 C559.17,255.33 562.50,254.50 565.00,255.00 C567.50,255.50 570.17,256.50 571.00,258.00 C571.83,259.50 571.50,262.83 570.00,264.00 C568.50,265.17 565.00,265.33 562.00,265.00 C559.00,264.67 555.17,262.50 552.00,262.00 C548.83,261.50 545.83,262.00 543.00,262.00 C540.17,262.00 537.17,262.50 535.00,262.00 C532.83,261.50 531.00,260.83 530.00,259.00 C529.00,257.17 527.83,252.50 529.00,251.00 Z" fill="none" stroke="#333" stroke-width="0.7" stroke-opacity="1"/>
<path d="M534.00,254.00 C535.33,253.33 539.33,253.67 542.00,254.00 C544.67,254.33 547.00,255.33 550.00,256.00 C553.00,256.67 557.33,257.50 560.00,258.00 C562.67,258.50 565.17,258.33 566.00,259.00 C566.83,259.67 566.50,261.50 565.00,262.00 C563.50,262.50 559.83,262.33 557.00,262.00 C554.17,261.67 550.83,260.50 548.00,260.00 C545.17,259.50 542.33,259.33 540.00,259.00 C537.67,258.67 535.00,258.83 534.00,258.00 C533.00,257.17 532.67,254.67 534.00,254.00 Z" fill="none" stroke="#333" stroke-width="0.6" stroke-opacity="1"/>
<path d="M529.00,260.00 C530.17,259.33 533.67,259.33 535.00,260.00 C536.33,260.67 537.00,262.67 537.00,264.00 C537.00,265.33 536.17,267.33 535.00,268.00 C533.83,268.67 531.17,268.67 530.00,268.00 C528.83,267.33 528.17,265.33 528.00,264.00 C527.83,262.67 527.83,260.67 529.00,260.00 Z" fill="none" stroke="#444" stroke-width="0.6" stroke-opacity="1"/>
</svg>
</body></html>
